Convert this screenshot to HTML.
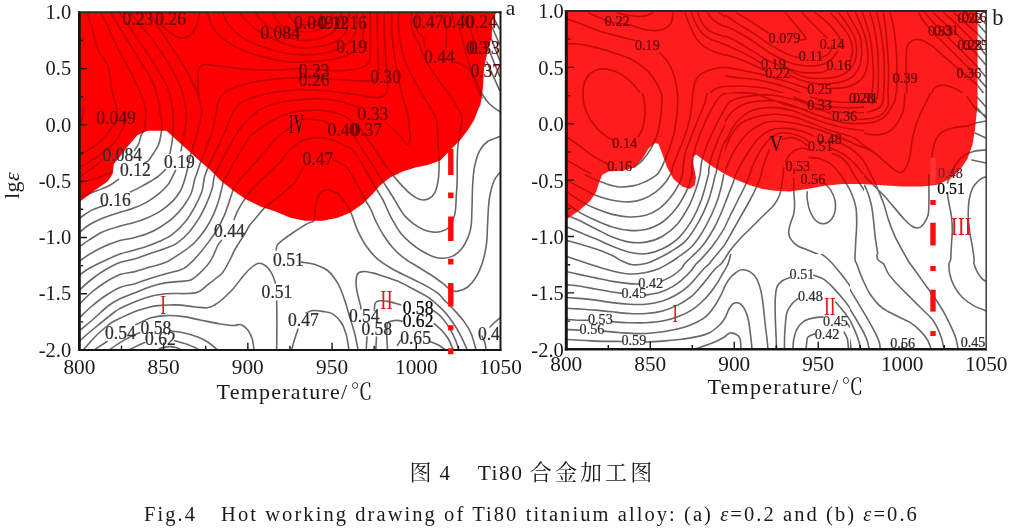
<!DOCTYPE html>
<html lang="zh"><head><meta charset="utf-8"><title>图 4 Ti80 合金加工图</title>
<style>
html,body{margin:0;padding:0;background:#fff;}
body{width:1009px;height:531px;overflow:hidden;}
svg{display:block;will-change:transform;}
text{font-family:"Liberation Serif","Noto Serif CJK SC",serif;fill:#1a1a1a;}
.tk{font-size:21.3px;}
.ax{font-size:22px;letter-spacing:1.25px;}
.cl{font-size:14.5px;fill:#2e2e2e;stroke:#2e2e2e;stroke-width:0.25px;}
.rm{font-size:24px;fill:#e8141c;}
.cn{fill:none;stroke:#686868;stroke-width:1.6;stroke-linecap:round;stroke-linejoin:round;}
.cr{fill:none;stroke:#c00000;stroke-width:1.6;stroke-linecap:round;stroke-linejoin:round;}
</style></head><body>
<svg width="1009" height="531" viewBox="0 0 1009 531">
<rect width="1009" height="531" fill="#fff"/>
<defs>
<clipPath id="cpL"><rect x="79.4" y="12.3" width="421.0" height="337.6"/></clipPath>
<clipPath id="cpR"><rect x="566.3" y="11.0" width="419.9" height="338.3"/></clipPath>
</defs>
<defs>
<clipPath id="redL"><path d="M79.0 9.0L496.0 9.0L496.0 13.0L492.4 20.0L491.7 37.6L487.9 50.1L484.1 67.6L482.9 87.7L481.6 97.7L480.4 105.0L477.9 110.0L474.1 120.0L467.9 130.1L460.3 140.1L450.3 150.1L440.3 160.6L427.8 165.1L415.3 167.6L402.7 171.4L390.2 177.6L380.2 185.2L372.7 193.9L362.6 204.0L350.1 212.7L337.6 217.7L322.6 220.7L305.0 220.7L290.4 217.7L275.4 211.5L260.4 206.5L245.3 198.9L232.8 190.2L220.3 180.2L210.3 170.1L200.3 161.4L187.7 150.1L175.2 138.8L166.4 130.8L147.6 130.8L137.6 135.1L128.9 145.1L120.1 156.4L113.8 163.9L112.6 173.9L107.6 181.4L95.0 190.2L80.0 201.4L78.0 203.0Z"/></clipPath>
<clipPath id="whtL"><path clip-rule="evenodd" d="M77.4 10.3H502.4V352.0H77.4ZM79.0 9.0L496.0 9.0L496.0 13.0L492.4 20.0L491.7 37.6L487.9 50.1L484.1 67.6L482.9 87.7L481.6 97.7L480.4 105.0L477.9 110.0L474.1 120.0L467.9 130.1L460.3 140.1L450.3 150.1L440.3 160.6L427.8 165.1L415.3 167.6L402.7 171.4L390.2 177.6L380.2 185.2L372.7 193.9L362.6 204.0L350.1 212.7L337.6 217.7L322.6 220.7L305.0 220.7L290.4 217.7L275.4 211.5L260.4 206.5L245.3 198.9L232.8 190.2L220.3 180.2L210.3 170.1L200.3 161.4L187.7 150.1L175.2 138.8L166.4 130.8L147.6 130.8L137.6 135.1L128.9 145.1L120.1 156.4L113.8 163.9L112.6 173.9L107.6 181.4L95.0 190.2L80.0 201.4L78.0 203.0Z"/></clipPath>
<g id="lnL">
<clipPath id="cL0"><rect x="75.0" y="5.0" width="283.0" height="103.0"/></clipPath>
<path clip-path="url(#cL0)" d="M87.0 12.5C87.9 15.4 90.7 23.8 92.5 30.0C94.3 36.2 95.4 43.8 98.0 50.0C100.6 56.2 105.8 59.9 108.2 67.0C110.6 74.1 111.0 85.6 112.4 92.4C113.8 99.2 116.0 104.7 116.8 108.0C117.6 111.3 117.4 111.3 117.5 112.0M101.0 13.0C102.2 15.3 105.1 21.0 108.0 27.1C110.9 33.2 114.6 41.9 118.5 49.7C122.4 57.5 127.6 66.3 131.5 74.1C135.4 81.9 139.8 91.0 142.0 96.7C144.2 102.4 144.4 105.5 145.0 108.0C145.6 110.5 145.7 111.3 145.8 112.0M111.0 13.0C112.0 14.7 114.7 19.4 117.0 23.3C119.3 27.2 121.3 30.5 125.0 36.5C128.7 42.5 134.4 51.6 139.0 59.1C143.6 66.6 149.2 74.5 152.5 81.7C155.8 88.9 157.8 98.0 159.0 102.4C160.2 106.8 159.4 106.4 159.6 108.0C159.8 109.6 159.8 111.3 159.9 112.0M120.0 13.0C121.3 15.0 124.5 20.0 128.0 25.2C131.5 30.4 136.6 37.4 141.0 44.0C145.4 50.6 150.1 57.5 154.5 64.7C158.9 71.9 164.6 80.4 167.5 87.3C170.4 94.2 171.3 102.8 172.1 106.2C172.9 109.7 172.2 107.0 172.4 108.0C172.6 109.0 173.0 111.3 173.1 112.0M131.0 13.0C132.8 15.3 138.3 22.6 142.0 27.1C145.7 31.6 148.7 34.2 153.0 40.2C157.3 46.2 163.3 54.9 168.0 62.8C172.7 70.6 178.1 80.1 181.0 87.3C183.9 94.5 184.5 102.8 185.3 106.2C186.1 109.7 185.4 107.0 185.6 108.0C185.8 109.0 186.2 111.3 186.3 112.0M150.0 13.0C151.8 16.0 157.1 25.0 160.8 30.8C164.5 36.6 168.0 41.5 172.1 47.8C176.2 54.1 181.7 62.5 185.3 68.5C188.9 74.5 191.5 79.8 193.5 84.0C195.5 88.2 196.4 91.0 197.5 94.0C198.6 97.0 199.4 100.7 199.8 102.0M159.7 12.5C160.0 14.4 159.7 20.5 161.4 23.8C163.2 27.1 167.1 30.1 170.2 32.5C173.3 34.9 177.1 37.4 180.2 38.0C183.3 38.6 186.5 37.5 189.0 36.0C191.5 34.5 193.6 31.7 195.2 29.0C196.8 26.3 197.6 22.8 198.3 20.0C199.0 17.2 199.3 13.8 199.5 12.5M288.0 13.0C288.8 14.3 290.2 19.0 293.0 21.0C295.8 23.0 301.2 24.8 305.0 25.0C308.8 25.2 313.2 24.0 316.0 22.0C318.8 20.0 321.0 14.5 322.0 13.0M272.9 13.0C274.1 14.8 276.8 21.2 280.0 24.0C283.2 26.8 287.8 28.7 292.0 30.0C296.2 31.3 300.7 32.0 305.0 32.0C309.3 32.0 314.2 31.3 318.0 30.0C321.8 28.7 325.5 26.8 328.0 24.0C330.5 21.2 332.2 14.8 333.0 13.0M255.4 13.0C257.0 14.8 260.9 20.7 265.0 24.0C269.1 27.3 274.2 30.3 280.0 33.0C285.8 35.7 293.7 39.3 300.0 40.3C306.3 41.3 312.7 40.2 318.0 39.0C323.3 37.8 328.5 35.5 332.0 33.0C335.5 30.5 337.5 27.3 339.0 24.0C340.5 20.7 340.7 14.8 341.0 13.0M240.3 13.0C241.6 14.7 244.4 19.7 248.0 23.0C251.6 26.3 256.7 29.8 262.0 33.0C267.3 36.2 273.7 39.5 280.0 42.0C286.3 44.5 293.0 47.1 300.0 47.8C307.0 48.5 315.7 47.3 322.0 46.0C328.3 44.7 334.0 42.5 338.0 40.0C342.0 37.5 344.2 35.5 346.0 31.0C347.8 26.5 348.5 16.0 349.0 13.0M222.8 13.0C223.7 14.8 225.1 20.2 228.0 24.0C230.9 27.8 234.7 32.3 240.0 36.0C245.3 39.7 253.3 43.3 260.0 46.0C266.7 48.7 273.3 50.5 280.0 52.0C286.7 53.5 292.5 54.6 300.0 54.8C307.5 55.0 318.0 54.3 325.0 53.0C332.0 51.7 337.5 49.3 342.0 47.0C346.5 44.7 349.7 41.8 352.0 39.0C354.3 36.2 355.1 34.3 355.9 30.0C356.6 25.7 356.4 15.8 356.5 13.0M207.8 13.0C208.5 15.2 209.6 21.8 212.0 26.0C214.4 30.2 217.3 34.2 222.0 38.0C226.7 41.8 233.7 46.0 240.0 49.0C246.3 52.0 252.0 53.9 260.0 56.0C268.0 58.1 276.9 61.0 287.8 61.7C298.8 62.4 316.2 61.4 325.7 60.4C335.2 59.4 339.8 57.9 345.0 56.0C350.2 54.1 354.1 51.7 357.0 49.0C359.9 46.3 361.4 43.2 362.5 40.0C363.6 36.8 363.2 34.5 363.4 30.0C363.6 25.5 363.5 15.8 363.5 13.0M201.8 112.0C201.7 111.3 201.3 109.7 201.0 108.0C200.7 106.3 200.2 104.7 199.8 102.0C199.4 99.3 198.8 95.7 198.5 92.0C198.2 88.3 198.2 83.7 198.2 80.0C198.2 76.3 198.1 72.3 198.6 70.0C199.1 67.7 199.8 66.9 201.0 66.0C202.2 65.1 201.9 64.7 206.0 64.8C210.1 64.9 218.1 66.0 225.5 66.8C232.9 67.6 242.2 69.0 250.6 69.5C259.0 70.0 268.0 70.1 275.8 70.0C283.6 69.9 287.9 68.7 297.6 68.8C307.3 68.9 325.2 70.4 333.8 70.6C342.4 70.8 344.3 70.6 348.9 70.1C353.5 69.6 358.1 69.2 361.5 67.8C364.9 66.4 367.6 64.7 369.1 61.5C370.6 58.4 370.4 54.1 370.6 48.9C370.8 43.6 370.4 36.0 370.4 30.0C370.3 24.0 370.3 15.8 370.3 13.0M216.3 112.0C216.4 111.3 216.4 109.8 216.8 108.0C217.2 106.2 217.5 103.3 218.5 101.0C219.5 98.7 221.0 96.0 223.0 94.0C225.0 92.0 225.7 90.8 230.3 88.9C234.9 87.0 242.9 84.4 250.4 82.7C257.9 81.0 267.0 79.8 275.4 78.9C283.8 78.1 291.9 77.7 300.5 77.6C309.1 77.5 318.9 78.0 327.0 78.5C335.1 79.0 342.1 80.0 348.9 80.4C355.7 80.8 363.2 81.3 367.8 81.1C372.4 80.9 374.9 80.8 376.7 79.2C378.5 77.6 378.3 75.6 378.5 71.6C378.7 67.6 378.1 62.1 377.9 55.2C377.7 48.3 377.4 37.0 377.3 30.0C377.2 23.0 377.1 15.8 377.0 13.0M233.0 112.0C233.5 111.3 234.6 109.6 236.0 108.0C237.4 106.4 238.3 104.4 241.5 102.5C244.7 100.6 249.8 98.2 255.4 96.5C261.1 94.8 267.9 93.3 275.4 92.2C282.9 91.1 292.2 89.9 300.5 89.7C308.8 89.5 316.9 90.1 325.2 90.8C333.5 91.5 342.8 92.9 350.4 93.9C358.0 95.0 365.6 96.6 370.6 97.1C375.7 97.6 378.2 97.6 380.7 97.1C383.2 96.6 384.5 95.5 385.7 93.9C386.9 92.3 387.4 91.3 387.6 87.6C387.8 83.9 387.1 77.0 386.7 71.6C386.3 66.2 385.9 62.1 385.5 55.2C385.1 48.3 384.4 37.0 384.2 30.0C383.9 23.0 384.0 15.8 384.0 13.0M256.0 112.5C257.2 111.8 260.3 109.3 263.0 108.0C265.7 106.7 268.3 105.6 272.0 104.5C275.7 103.4 280.3 102.3 285.0 101.5C289.7 100.7 294.4 100.3 300.0 99.8C305.6 99.3 312.6 98.4 318.9 98.6C325.2 98.8 332.1 99.8 337.8 100.9C343.5 102.0 349.4 104.0 353.0 105.3C356.6 106.6 358.2 108.4 359.3 109.0M388.3 124.8C389.6 125.9 393.1 128.8 395.8 131.7C398.5 134.6 403.2 140.3 404.7 142.0M391.8 13.0C391.8 15.8 391.4 23.0 391.8 30.0C392.2 37.0 393.2 46.8 394.3 55.2C395.4 63.6 397.3 73.4 398.7 80.4C400.1 87.4 401.1 91.4 402.6 97.0C404.1 102.6 406.4 107.4 407.7 114.1C409.0 120.8 409.8 133.2 410.2 137.0M398.7 13.0C398.7 15.8 398.0 23.0 398.7 30.0C399.4 37.0 401.4 48.5 403.1 55.2C404.8 61.9 406.2 64.4 408.9 70.0C411.5 75.6 415.4 82.6 419.0 88.9C422.6 95.2 427.4 102.5 430.4 107.8C433.3 113.0 435.4 115.5 436.7 120.4C437.9 125.3 437.7 134.2 437.9 137.0M411.5 13.0C411.6 15.8 410.9 25.1 412.0 30.0C413.1 34.9 415.7 36.9 418.3 42.6C420.9 48.3 423.7 56.8 427.8 64.0C431.9 71.2 438.4 79.3 443.0 86.0C447.6 92.7 452.5 99.0 455.6 104.3C458.8 109.6 461.1 112.5 461.9 117.9C462.7 123.4 460.8 133.8 460.6 137.0M416.5 13.0C416.6 15.8 415.9 25.9 417.0 30.0C418.1 34.1 422.1 34.8 423.3 37.6C424.6 40.4 424.3 45.4 424.5 47.0M455.0 62.0C456.3 62.6 460.4 64.1 463.0 65.5C465.6 66.9 468.6 68.1 470.7 70.5C472.8 72.9 473.9 76.2 475.8 80.1C477.7 84.0 479.8 90.0 482.1 94.0C484.4 98.0 486.7 101.1 489.6 104.0C492.5 106.9 498.0 110.3 499.7 111.6M446.7 26.4L446.3 47.0M459.3 26.4C459.9 28.9 461.5 35.8 463.0 41.5C464.5 47.2 466.4 54.5 468.1 60.4C469.8 66.3 471.5 72.1 473.1 77.0C474.8 81.9 476.5 86.5 478.0 90.0C479.5 93.5 481.3 96.7 482.0 98.0M470.0 27.0C470.5 28.8 471.8 34.2 473.0 38.0C474.2 41.8 476.3 48.0 477.0 50.0M452.0 13.0L455.0 26.0M463.0 13.0L466.0 24.0M493.0 17.0L499.5 29.0M492.0 27.0L499.5 44.0M491.0 38.0L499.5 60.0M489.0 50.0L499.5 76.0M487.0 62.0L499.5 90.2"/>
<clipPath id="cL1"><rect x="358.0" y="5.0" width="142.0" height="116.5"/></clipPath>
<path clip-path="url(#cL1)" d="M288.0 13.0C288.8 14.3 290.2 19.0 293.0 21.0C295.8 23.0 301.2 24.8 305.0 25.0C308.8 25.2 313.2 24.0 316.0 22.0C318.8 20.0 321.0 14.5 322.0 13.0M272.9 13.0C274.1 14.8 276.8 21.2 280.0 24.0C283.2 26.8 287.8 28.7 292.0 30.0C296.2 31.3 300.7 32.0 305.0 32.0C309.3 32.0 314.2 31.3 318.0 30.0C321.8 28.7 325.5 26.8 328.0 24.0C330.5 21.2 332.2 14.8 333.0 13.0M255.4 13.0C257.0 14.8 260.9 20.7 265.0 24.0C269.1 27.3 274.2 30.3 280.0 33.0C285.8 35.7 293.7 39.3 300.0 40.3C306.3 41.3 312.7 40.2 318.0 39.0C323.3 37.8 328.5 35.5 332.0 33.0C335.5 30.5 337.5 27.3 339.0 24.0C340.5 20.7 340.7 14.8 341.0 13.0M240.3 13.0C241.6 14.7 244.4 19.7 248.0 23.0C251.6 26.3 256.7 29.8 262.0 33.0C267.3 36.2 273.7 39.5 280.0 42.0C286.3 44.5 293.0 47.1 300.0 47.8C307.0 48.5 315.7 47.3 322.0 46.0C328.3 44.7 334.0 42.5 338.0 40.0C342.0 37.5 344.2 35.5 346.0 31.0C347.8 26.5 348.5 16.0 349.0 13.0M222.8 13.0C223.7 14.8 225.1 20.2 228.0 24.0C230.9 27.8 234.7 32.3 240.0 36.0C245.3 39.7 253.3 43.3 260.0 46.0C266.7 48.7 273.3 50.5 280.0 52.0C286.7 53.5 292.5 54.6 300.0 54.8C307.5 55.0 318.0 54.3 325.0 53.0C332.0 51.7 337.5 49.3 342.0 47.0C346.5 44.7 349.7 41.8 352.0 39.0C354.3 36.2 355.1 34.3 355.9 30.0C356.6 25.7 356.4 15.8 356.5 13.0M207.8 13.0C208.5 15.2 209.6 21.8 212.0 26.0C214.4 30.2 217.3 34.2 222.0 38.0C226.7 41.8 233.7 46.0 240.0 49.0C246.3 52.0 252.0 53.9 260.0 56.0C268.0 58.1 276.9 61.0 287.8 61.7C298.8 62.4 316.2 61.4 325.7 60.4C335.2 59.4 339.8 57.9 345.0 56.0C350.2 54.1 354.1 51.7 357.0 49.0C359.9 46.3 361.4 43.2 362.5 40.0C363.6 36.8 363.2 34.5 363.4 30.0C363.6 25.5 363.5 15.8 363.5 13.0M201.8 112.0C201.7 111.3 201.3 109.7 201.0 108.0C200.7 106.3 200.2 104.7 199.8 102.0C199.4 99.3 198.8 95.7 198.5 92.0C198.2 88.3 198.2 83.7 198.2 80.0C198.2 76.3 198.1 72.3 198.6 70.0C199.1 67.7 199.8 66.9 201.0 66.0C202.2 65.1 201.9 64.7 206.0 64.8C210.1 64.9 218.1 66.0 225.5 66.8C232.9 67.6 242.2 69.0 250.6 69.5C259.0 70.0 268.0 70.1 275.8 70.0C283.6 69.9 287.9 68.7 297.6 68.8C307.3 68.9 325.2 70.4 333.8 70.6C342.4 70.8 344.3 70.6 348.9 70.1C353.5 69.6 358.1 69.2 361.5 67.8C364.9 66.4 367.6 64.7 369.1 61.5C370.6 58.4 370.4 54.1 370.6 48.9C370.8 43.6 370.4 36.0 370.4 30.0C370.3 24.0 370.3 15.8 370.3 13.0M216.3 112.0C216.4 111.3 216.4 109.8 216.8 108.0C217.2 106.2 217.5 103.3 218.5 101.0C219.5 98.7 221.0 96.0 223.0 94.0C225.0 92.0 225.7 90.8 230.3 88.9C234.9 87.0 242.9 84.4 250.4 82.7C257.9 81.0 267.0 79.8 275.4 78.9C283.8 78.1 291.9 77.7 300.5 77.6C309.1 77.5 318.9 78.0 327.0 78.5C335.1 79.0 342.1 80.0 348.9 80.4C355.7 80.8 363.2 81.3 367.8 81.1C372.4 80.9 374.9 80.8 376.7 79.2C378.5 77.6 378.3 75.6 378.5 71.6C378.7 67.6 378.1 62.1 377.9 55.2C377.7 48.3 377.4 37.0 377.3 30.0C377.2 23.0 377.1 15.8 377.0 13.0M233.0 112.0C233.5 111.3 234.6 109.6 236.0 108.0C237.4 106.4 238.3 104.4 241.5 102.5C244.7 100.6 249.8 98.2 255.4 96.5C261.1 94.8 267.9 93.3 275.4 92.2C282.9 91.1 292.2 89.9 300.5 89.7C308.8 89.5 316.9 90.1 325.2 90.8C333.5 91.5 342.8 92.9 350.4 93.9C358.0 95.0 365.6 96.6 370.6 97.1C375.7 97.6 378.2 97.6 380.7 97.1C383.2 96.6 384.5 95.5 385.7 93.9C386.9 92.3 387.4 91.3 387.6 87.6C387.8 83.9 387.1 77.0 386.7 71.6C386.3 66.2 385.9 62.1 385.5 55.2C385.1 48.3 384.4 37.0 384.2 30.0C383.9 23.0 384.0 15.8 384.0 13.0M256.0 112.5C257.2 111.8 260.3 109.3 263.0 108.0C265.7 106.7 268.3 105.6 272.0 104.5C275.7 103.4 280.3 102.3 285.0 101.5C289.7 100.7 294.4 100.3 300.0 99.8C305.6 99.3 312.6 98.4 318.9 98.6C325.2 98.8 332.1 99.8 337.8 100.9C343.5 102.0 349.4 104.0 353.0 105.3C356.6 106.6 358.2 108.4 359.3 109.0M388.3 124.8C389.6 125.9 393.1 128.8 395.8 131.7C398.5 134.6 403.2 140.3 404.7 142.0M391.8 13.0C391.8 15.8 391.4 23.0 391.8 30.0C392.2 37.0 393.2 46.8 394.3 55.2C395.4 63.6 397.3 73.4 398.7 80.4C400.1 87.4 401.1 91.4 402.6 97.0C404.1 102.6 406.4 107.4 407.7 114.1C409.0 120.8 409.8 133.2 410.2 137.0M398.7 13.0C398.7 15.8 398.0 23.0 398.7 30.0C399.4 37.0 401.4 48.5 403.1 55.2C404.8 61.9 406.2 64.4 408.9 70.0C411.5 75.6 415.4 82.6 419.0 88.9C422.6 95.2 427.4 102.5 430.4 107.8C433.3 113.0 435.4 115.5 436.7 120.4C437.9 125.3 437.7 134.2 437.9 137.0M411.5 13.0C411.6 15.8 410.9 25.1 412.0 30.0C413.1 34.9 415.7 36.9 418.3 42.6C420.9 48.3 423.7 56.8 427.8 64.0C431.9 71.2 438.4 79.3 443.0 86.0C447.6 92.7 452.5 99.0 455.6 104.3C458.8 109.6 461.1 112.5 461.9 117.9C462.7 123.4 460.8 133.8 460.6 137.0M416.5 13.0C416.6 15.8 415.9 25.9 417.0 30.0C418.1 34.1 422.1 34.8 423.3 37.6C424.6 40.4 424.3 45.4 424.5 47.0M455.0 62.0C456.3 62.6 460.4 64.1 463.0 65.5C465.6 66.9 468.6 68.1 470.7 70.5C472.8 72.9 473.9 76.2 475.8 80.1C477.7 84.0 479.8 90.0 482.1 94.0C484.4 98.0 486.7 101.1 489.6 104.0C492.5 106.9 498.0 110.3 499.7 111.6M446.7 26.4L446.3 47.0M459.3 26.4C459.9 28.9 461.5 35.8 463.0 41.5C464.5 47.2 466.4 54.5 468.1 60.4C469.8 66.3 471.5 72.1 473.1 77.0C474.8 81.9 476.5 86.5 478.0 90.0C479.5 93.5 481.3 96.7 482.0 98.0M470.0 27.0C470.5 28.8 471.8 34.2 473.0 38.0C474.2 41.8 476.3 48.0 477.0 50.0M452.0 13.0L455.0 26.0M463.0 13.0L466.0 24.0M493.0 17.0L499.5 29.0M492.0 27.0L499.5 44.0M491.0 38.0L499.5 60.0M489.0 50.0L499.5 76.0M487.0 62.0L499.5 90.2"/>
<clipPath id="cL2"><rect x="75.0" y="108.0" width="283.0" height="243.0"/></clipPath>
<path clip-path="url(#cL2)" d="M80.0 68.0C80.5 70.8 82.3 79.7 83.0 85.0C83.7 90.3 84.1 94.8 84.0 100.0C83.9 105.2 83.2 112.0 82.5 116.0C81.8 120.0 80.4 122.7 80.0 124.0M116.8 108.0C116.8 109.7 116.8 115.3 116.5 118.0C116.2 120.7 115.7 122.5 115.0 124.0C114.3 125.5 114.1 124.6 112.4 126.8C110.7 129.0 108.0 133.6 104.8 137.0C101.6 140.4 97.0 144.3 93.0 147.1C89.0 149.9 83.5 152.6 81.0 153.9C78.5 155.2 78.5 154.8 78.0 155.0M124.0 126.0C123.6 126.7 123.3 127.5 121.8 130.2C120.3 132.9 118.4 138.1 115.0 142.0C111.6 145.9 106.2 150.2 101.4 153.9C96.6 157.6 90.1 161.7 86.2 164.0C82.3 166.3 79.4 167.3 78.0 168.0M142.0 96.7C142.5 98.6 144.4 105.5 145.0 108.0C145.6 110.5 145.9 108.7 145.8 112.0C145.7 115.3 145.3 124.1 144.5 128.0C143.7 131.9 142.2 132.6 141.2 135.2C140.2 137.8 139.8 141.1 138.7 143.6C137.6 146.1 135.2 149.2 134.5 150.3M102.3 159.8C100.8 161.1 96.5 164.8 93.0 167.5C89.5 170.2 83.5 174.2 81.0 175.9C78.5 177.6 78.5 177.2 78.0 177.5M112.0 172.0C110.0 172.8 104.5 175.4 100.0 177.0C95.5 178.6 88.7 180.5 85.0 181.5C81.3 182.5 79.2 182.8 78.0 183.0M159.0 102.4C159.1 103.3 159.4 106.4 159.6 108.0C159.8 109.6 159.5 109.5 159.9 112.0C160.3 114.5 161.7 119.1 161.8 123.2C161.9 127.3 161.3 132.6 160.7 136.4C160.1 140.2 159.3 143.1 158.0 146.0C156.7 148.9 154.5 151.6 153.0 154.0C151.5 156.4 150.4 158.7 148.8 160.3C147.2 161.9 144.5 163.1 143.7 163.7M118.4 179.3C117.0 180.3 113.3 183.5 109.9 185.3C106.5 187.1 102.8 188.4 98.0 190.3C93.2 192.2 84.3 195.7 81.0 197.0C77.7 198.3 78.5 197.8 78.0 198.0M172.1 106.2C172.2 106.5 172.2 107.0 172.4 108.0C172.6 109.0 173.0 108.4 173.1 112.0C173.2 115.6 173.4 124.7 173.2 129.8C173.0 135.0 172.4 139.0 171.9 142.9C171.4 146.8 170.2 151.7 169.9 153.5M165.5 169.6C164.2 170.8 160.4 174.6 158.0 176.5C155.6 178.4 153.8 179.3 151.0 181.0C148.2 182.7 144.5 184.8 141.1 186.6C137.7 188.4 132.3 191.0 130.5 191.9M106.3 205.0C105.2 205.3 102.5 205.9 99.7 207.0C96.9 208.1 92.4 209.8 89.2 211.6C86.0 213.3 82.5 216.2 80.6 217.5C78.7 218.8 78.4 219.2 78.0 219.5M185.3 106.2C185.4 106.5 185.4 107.0 185.6 108.0C185.8 109.0 186.4 108.4 186.3 112.0C186.2 115.6 185.7 124.7 185.0 129.8C184.3 135.0 183.1 139.4 182.4 142.9C181.8 146.4 181.3 149.5 181.1 150.8M175.6 170.4C174.8 172.0 172.2 177.5 170.8 180.0C169.5 182.5 169.4 183.1 167.5 185.3C165.6 187.5 163.1 190.3 159.6 193.2C156.1 196.0 150.8 199.9 146.4 202.4C142.0 204.9 137.6 206.7 133.2 208.3C128.8 210.0 125.1 210.7 120.0 212.3C114.9 214.0 107.5 216.1 102.4 218.2C97.3 220.3 92.8 222.6 89.2 224.8C85.6 227.0 82.5 230.0 80.6 231.4C78.7 232.8 78.4 233.2 78.0 233.5M199.8 102.0C200.0 103.0 200.7 106.3 201.0 108.0C201.3 109.7 202.3 108.4 201.8 112.0C201.3 115.6 199.7 124.0 198.2 129.8C196.7 135.6 194.2 142.5 192.9 146.9C191.6 151.3 191.2 152.6 190.3 156.1C189.4 159.6 188.6 164.0 187.7 168.0C186.8 172.0 185.8 176.2 184.6 180.0C183.4 183.8 182.6 187.0 180.6 190.5C178.6 194.0 176.2 197.6 172.7 201.1C169.2 204.6 164.0 208.8 159.6 211.6C155.2 214.4 150.8 216.3 146.4 218.2C142.0 220.1 137.6 221.5 133.2 222.8C128.8 224.1 125.1 224.6 120.0 226.1C114.9 227.6 107.5 229.7 102.4 232.0C97.3 234.3 92.8 237.6 89.2 239.9C85.6 242.2 82.5 244.6 80.6 245.9C78.7 247.2 78.4 247.7 78.0 248.0M218.5 101.0C218.2 102.2 217.2 106.2 216.8 108.0C216.4 109.8 217.0 108.4 216.3 112.0C215.6 115.6 214.4 123.8 212.7 129.8C211.0 135.8 208.1 142.9 206.1 148.2C204.1 153.5 202.3 157.2 200.8 161.4C199.3 165.6 198.0 170.1 196.9 173.2C195.8 176.3 195.4 176.7 194.5 180.0C193.6 183.3 193.1 188.8 191.2 193.2C189.3 197.6 186.4 202.2 183.3 206.4C180.2 210.6 176.6 214.7 172.7 218.2C168.8 221.7 164.0 224.8 159.6 227.5C155.2 230.2 150.8 232.3 146.4 234.1C142.0 235.8 137.6 236.9 133.2 238.0C128.8 239.1 125.1 239.1 120.0 240.6C114.9 242.1 107.5 244.9 102.4 247.2C97.3 249.5 92.8 252.2 89.2 254.4C85.6 256.6 82.5 259.0 80.6 260.4C78.7 261.8 78.4 262.1 78.0 262.5M241.5 102.5C240.6 103.4 237.4 106.4 236.0 108.0C234.6 109.6 234.7 108.4 233.0 112.0C231.3 115.6 228.6 123.6 225.9 129.8C223.2 136.1 219.3 144.0 216.7 149.5C214.1 155.0 212.1 158.3 210.1 162.7C208.1 167.1 205.9 172.5 204.8 175.9C203.7 179.3 204.0 180.3 203.5 183.0C203.0 185.7 203.1 188.0 201.7 191.9C200.3 195.8 197.7 201.6 195.1 206.4C192.5 211.2 189.6 216.3 185.9 220.9C182.2 225.5 177.1 230.7 172.7 234.1C168.3 237.5 164.0 239.2 159.6 241.3C155.2 243.4 150.8 245.0 146.4 246.5C142.0 248.0 137.4 249.2 133.0 250.5C128.6 251.8 125.1 252.1 120.0 254.0C114.9 255.9 107.5 259.3 102.4 261.7C97.3 264.1 92.8 266.2 89.2 268.3C85.6 270.4 82.5 272.8 80.6 274.2C78.7 275.6 78.4 276.1 78.0 276.5M272.0 104.5C270.5 105.1 265.7 106.7 263.0 108.0C260.3 109.3 258.2 110.8 256.0 112.5C253.8 114.2 252.8 115.0 250.0 117.9C247.2 120.8 242.7 124.8 239.1 129.8C235.5 134.9 231.6 142.7 228.5 148.2C225.4 153.7 222.8 158.5 220.6 162.7C218.4 166.9 216.5 170.3 215.3 173.2C214.1 176.1 214.1 177.6 213.6 180.0C213.1 182.4 213.4 184.2 212.3 187.9C211.2 191.6 209.2 197.4 207.0 202.4C204.8 207.4 202.2 213.1 199.1 218.2C196.0 223.2 192.3 228.5 188.6 232.7C184.9 236.9 180.6 240.7 176.7 243.3C172.8 245.9 169.6 246.8 165.2 248.5C160.8 250.2 155.1 251.9 150.1 253.6C145.1 255.3 140.0 257.3 135.0 258.8C130.0 260.3 125.0 260.7 120.0 262.6C115.0 264.5 109.7 267.3 105.0 270.0C100.3 272.7 96.1 275.8 92.0 279.0C87.9 282.2 82.8 286.9 80.5 289.0C78.2 291.1 78.4 291.1 78.0 291.5M353.0 122.9C352.1 122.1 350.8 119.6 347.9 117.9C344.9 116.2 340.1 114.1 335.3 112.8C330.5 111.5 324.8 110.6 318.9 110.3C313.0 110.0 305.2 110.5 300.0 111.0C294.8 111.5 292.4 112.0 287.9 113.5C283.4 115.0 278.0 117.2 273.0 120.0C268.0 122.8 261.6 127.4 257.8 130.1C254.0 132.8 252.7 133.2 250.0 136.4C247.3 139.6 244.4 145.1 241.7 149.5C239.0 153.9 236.0 158.8 233.8 162.7C231.6 166.6 230.1 170.3 228.5 173.2C226.9 176.1 225.1 177.8 224.0 180.0C222.9 182.2 223.0 183.3 222.2 186.6C221.3 189.9 220.3 195.2 218.9 199.8C217.5 204.4 215.8 209.5 213.6 214.3C211.4 219.1 208.5 224.4 205.7 228.8C202.8 233.2 199.0 237.7 196.5 240.6C194.0 243.5 193.5 243.8 190.8 246.0C188.1 248.2 184.5 250.8 180.2 253.6C175.9 256.4 170.2 260.4 165.2 262.6C160.2 264.9 155.1 265.6 150.1 267.1C145.1 268.6 140.0 270.4 135.0 271.6C130.0 272.9 125.0 272.8 120.0 274.6C115.0 276.4 109.7 279.6 105.0 282.5C100.3 285.4 96.1 288.6 92.0 292.0C87.9 295.4 82.8 300.8 80.5 303.0C78.2 305.2 78.4 305.1 78.0 305.5M330.3 126.0C329.6 125.3 328.8 122.9 325.8 121.8C322.9 120.7 316.8 119.9 312.6 119.5C308.5 119.1 305.0 118.0 300.9 119.6C296.8 121.1 292.3 125.6 288.1 128.8C283.9 132.0 279.5 134.9 275.5 138.9C271.5 142.9 268.1 148.2 264.1 152.8C260.1 157.4 255.5 162.3 251.5 166.7C247.5 171.1 243.0 175.9 240.2 179.3C237.4 182.7 235.8 185.0 234.5 187.0C233.2 189.0 233.5 188.8 232.7 191.2C231.8 193.5 230.8 197.0 229.4 201.1C228.0 205.2 226.2 211.0 224.2 215.6C222.2 220.2 220.0 224.6 217.6 228.8C215.2 233.0 212.8 236.2 209.6 240.6C206.4 245.0 201.9 250.9 198.3 255.1C194.7 259.3 190.8 263.1 187.8 265.6C184.8 268.1 184.0 268.7 180.2 270.1C176.4 271.5 170.2 272.5 165.2 273.9C160.2 275.3 155.1 276.8 150.1 278.4C145.1 280.0 140.0 282.2 135.0 283.7C130.0 285.2 125.0 285.3 120.0 287.4C115.0 289.4 109.7 292.9 105.0 296.0C100.3 299.1 96.1 302.6 92.0 306.0C87.9 309.4 82.8 314.5 80.5 316.7C78.2 318.9 78.4 318.6 78.0 319.0M346.0 146.5C343.9 145.4 337.7 141.7 333.5 140.2C329.3 138.7 325.1 137.9 320.9 137.7C316.7 137.5 312.1 138.1 308.3 138.9C304.5 139.7 301.6 140.6 298.2 142.7C294.8 144.8 291.2 148.1 288.1 151.5C285.0 154.9 282.7 159.1 279.3 162.9C275.9 166.7 271.5 170.8 267.9 174.2C264.3 177.6 260.9 180.0 257.8 183.1C254.7 186.2 251.5 189.8 249.0 193.0C246.5 196.2 244.5 199.3 242.6 202.4C240.7 205.5 238.7 208.7 237.3 211.6C235.9 214.5 234.6 218.3 234.0 219.6M221.5 240.6C220.8 241.5 219.4 242.5 217.6 245.9C215.8 249.3 213.4 256.6 210.4 261.1C207.4 265.6 203.1 270.0 199.8 273.1C196.5 276.2 194.1 278.5 190.8 279.9C187.5 281.3 184.5 280.9 180.2 281.4C175.9 281.9 170.2 282.0 165.2 282.9C160.2 283.8 155.1 285.1 150.1 286.7C145.1 288.3 140.0 290.7 135.0 292.7C130.0 294.7 124.5 296.5 120.0 298.7C115.5 300.9 112.2 302.8 108.0 306.0C103.8 309.2 99.2 314.0 94.6 318.0C90.0 322.0 83.3 327.6 80.5 330.0C77.7 332.4 78.4 332.1 78.0 332.5M332.2 159.1C333.5 159.7 337.5 161.6 339.8 162.9C342.1 164.2 344.3 165.2 346.0 166.7C347.7 168.2 348.0 168.8 350.0 172.0C352.0 175.2 355.3 181.2 358.0 186.0C360.7 190.8 364.7 198.5 366.0 201.0M346.0 126.0C346.6 126.7 348.1 127.7 349.8 130.0C351.5 132.3 353.9 136.0 356.4 139.8C358.9 143.6 363.2 150.7 364.6 152.9M346.0 146.5C347.0 146.9 349.5 146.4 352.0 149.0C354.5 151.6 358.2 157.5 361.0 162.0C363.8 166.5 367.7 173.7 369.0 176.0M353.0 122.9C353.8 123.4 356.6 124.8 358.0 126.0C359.4 127.2 360.2 128.5 361.3 130.0C362.4 131.5 364.1 134.1 364.6 134.9M303.2 167.9C302.4 169.4 299.7 174.1 298.2 176.7C296.7 179.3 296.9 180.3 294.0 183.4C291.1 186.5 285.2 191.3 280.5 195.2C275.8 199.1 269.7 203.0 265.5 206.9C261.3 210.8 258.0 215.6 255.4 218.6C252.8 221.6 251.9 222.0 250.0 224.8C248.1 227.6 245.8 232.3 243.9 235.4C242.0 238.5 240.2 240.9 238.7 243.3C237.2 245.7 236.2 247.2 234.7 250.0C233.2 252.8 231.9 256.2 229.9 260.0C227.9 263.8 224.9 269.5 222.7 272.5C220.4 275.5 219.0 275.9 216.4 278.0C213.8 280.1 210.3 282.9 207.3 285.2C204.3 287.5 201.6 290.6 198.3 292.0C195.1 293.4 192.1 293.2 187.8 293.5C183.5 293.8 177.0 293.4 172.7 293.5C168.4 293.6 166.0 293.7 162.2 294.2C158.4 294.7 154.6 295.2 150.1 296.5C145.6 297.8 140.0 299.7 135.0 301.7C130.0 303.7 123.6 306.6 120.0 308.5C116.4 310.4 117.5 309.8 113.3 313.0C109.1 316.2 100.1 323.5 94.6 328.0C89.1 332.5 83.3 337.7 80.5 340.0C77.7 342.3 78.4 341.7 78.0 342.0M79.0 352.0C79.8 351.6 80.9 352.1 83.5 349.6C86.1 347.1 90.7 341.1 94.6 337.2C98.5 333.3 104.0 328.6 107.1 326.0C110.2 323.4 111.1 322.8 113.3 321.5C115.5 320.2 116.4 320.0 120.0 318.3C123.6 316.6 130.0 313.4 135.0 311.5C140.0 309.6 146.2 308.0 150.1 307.0C154.0 306.0 155.4 305.9 158.5 305.6C161.6 305.3 164.9 305.1 168.5 305.0C172.1 304.9 175.7 304.8 180.2 305.1C184.7 305.4 190.8 306.6 195.3 307.0C199.8 307.4 204.0 308.2 207.3 307.8C210.6 307.4 212.3 306.3 214.9 304.8C217.5 303.3 219.6 301.7 222.7 299.0C225.8 296.3 229.8 292.5 233.4 288.5C237.0 284.5 240.9 278.6 244.0 275.0C247.1 271.4 249.7 268.9 252.0 267.0C254.3 265.1 256.2 264.0 258.0 263.5C259.8 263.0 261.3 263.4 263.0 264.2C264.7 264.9 266.4 266.2 268.0 268.0C269.6 269.8 271.3 272.5 272.5 275.0C273.7 277.5 274.9 281.7 275.4 283.0M276.7 301.0C276.7 304.2 276.9 311.9 276.9 320.0C276.9 328.1 276.7 344.6 276.7 349.5M94.6 349.6L107.1 341.5M135.9 324.6C138.4 323.5 146.2 319.3 151.1 317.8C156.0 316.3 160.1 315.8 165.5 315.6C170.9 315.4 177.5 315.8 183.4 316.6C189.3 317.4 195.2 319.0 201.2 320.2C207.1 321.4 213.7 322.8 219.1 323.7C224.5 324.6 229.9 325.4 233.5 325.5C237.1 325.6 238.2 323.9 240.6 324.6C243.0 325.4 245.9 327.6 247.8 330.0C249.7 332.4 251.2 335.6 252.2 338.9C253.2 342.2 253.7 347.9 254.0 349.7M110.0 349.7C111.2 348.8 113.9 346.4 117.2 344.3C120.5 342.2 126.0 339.0 129.7 337.1C133.4 335.2 137.9 333.4 139.5 332.7M170.8 330.9C172.9 331.2 178.9 331.7 183.4 332.7C187.9 333.7 193.5 335.5 197.7 337.1C201.9 338.7 205.1 340.4 208.4 342.5C211.7 344.6 215.8 348.5 217.3 349.7M129.7 349.7C130.9 349.1 134.3 347.3 136.8 346.1C139.3 344.9 143.6 343.1 144.9 342.5M174.4 340.7C176.5 341.3 182.7 342.8 186.9 344.3C191.1 345.8 197.4 348.8 199.5 349.7M158.0 349.7C158.8 349.4 161.0 348.1 163.0 347.6C165.0 347.1 167.8 346.6 170.0 346.6C172.2 346.6 174.2 347.1 176.0 347.6C177.8 348.1 180.2 349.4 181.0 349.7M366.2 246.0C364.8 243.6 360.2 235.9 358.0 231.3C355.8 226.7 354.5 221.8 353.1 218.2C351.7 214.6 351.0 212.4 349.8 210.0C348.6 207.6 347.9 206.2 345.9 203.5C343.9 200.8 340.8 196.2 338.0 194.0C335.2 191.8 331.9 190.5 329.2 190.1C326.5 189.7 324.0 190.1 322.0 191.5C320.0 192.9 318.5 195.4 317.3 198.5C316.1 201.6 315.5 206.4 315.0 210.0C314.5 213.6 315.4 218.0 314.1 220.3C312.8 222.6 310.8 221.7 307.4 223.6C304.0 225.5 298.2 229.2 294.0 232.0C289.8 234.8 285.0 238.2 282.2 240.4C279.4 242.6 278.2 243.8 277.2 245.4C276.2 247.0 276.4 249.2 276.3 250.0M291.7 349.5C292.2 347.6 293.9 341.4 295.0 338.0C296.1 334.6 297.5 330.5 298.0 329.0M306.0 313.0C307.2 312.6 310.2 310.8 313.0 310.5C315.8 310.2 319.3 310.8 322.6 311.4C325.9 312.0 329.5 312.0 332.6 313.9C335.7 315.8 339.1 319.1 341.4 322.7C343.7 326.2 345.1 330.7 346.4 335.2C347.6 339.7 348.5 347.1 348.9 349.5"/>
<clipPath id="cL3"><rect x="358.0" y="121.5" width="142.0" height="229.5"/></clipPath>
<path clip-path="url(#cL3)" d="M388.3 124.8C389.6 125.9 393.4 129.2 395.8 131.7C398.2 134.1 401.1 137.4 403.0 139.5C404.9 141.6 405.9 144.1 407.0 144.5C408.1 144.9 409.1 143.2 409.6 142.0C410.1 140.8 410.3 139.8 410.2 137.0C410.1 134.2 409.4 128.8 409.0 125.0C408.6 121.2 407.9 115.9 407.7 114.1M436.7 120.4C436.8 122.0 437.2 125.7 437.5 130.0C437.8 134.3 438.0 140.9 438.3 146.4C438.6 151.9 439.1 157.3 439.1 162.8C439.1 168.3 439.0 174.3 438.3 179.2C437.6 184.1 436.6 189.0 435.0 192.3C433.4 195.6 430.9 197.6 428.5 198.8C426.1 200.0 423.3 200.4 420.3 199.6C417.3 198.8 413.8 196.5 410.5 193.9C407.2 191.3 403.9 187.7 400.6 184.1C397.3 180.5 393.8 176.4 390.8 172.6C387.8 168.8 385.6 165.5 382.6 161.1C379.6 156.7 375.8 150.8 372.8 146.4C369.8 142.0 366.5 137.6 364.6 134.9C362.7 132.2 362.4 131.5 361.3 130.0C360.2 128.5 359.4 127.2 358.0 126.0C356.6 124.8 353.8 123.4 353.0 122.9M461.9 117.9C461.7 119.9 461.2 125.5 460.6 130.0C460.0 134.5 458.6 139.2 458.0 144.7C457.4 150.2 457.3 157.1 457.2 162.8C457.1 168.6 457.3 173.8 457.2 179.2C457.1 184.6 456.6 190.4 456.3 195.5C456.0 200.6 456.0 205.9 455.5 210.0C455.0 214.1 454.3 216.8 453.1 219.8C451.9 222.8 450.0 226.1 448.1 228.0C446.2 229.9 444.1 230.6 441.6 231.3C439.2 232.0 436.4 232.4 433.4 232.1C430.4 231.8 426.9 231.1 423.6 229.7C420.3 228.3 416.7 226.1 413.7 223.9C410.7 221.7 407.7 218.9 405.5 216.6C403.3 214.3 402.5 212.9 400.6 210.0C398.7 207.1 396.6 203.0 394.1 199.0C391.7 195.0 388.4 189.8 385.9 186.0C383.4 182.2 381.5 179.5 379.3 176.0C377.1 172.5 375.2 168.8 372.8 165.0C370.4 161.2 367.3 157.1 364.6 152.9C361.9 148.7 358.9 143.6 356.4 139.8C353.9 136.0 351.5 132.3 349.8 130.0C348.1 127.7 346.6 126.7 346.0 126.0M499.8 136.6C497.8 137.4 490.9 139.1 487.5 141.5C484.1 143.9 481.5 146.9 479.3 151.3C477.1 155.7 475.5 162.2 474.4 167.7C473.3 173.2 473.1 178.6 472.7 184.1C472.3 189.6 472.3 196.2 472.2 200.5C472.1 204.8 472.1 205.7 471.9 210.0C471.7 214.3 471.8 221.8 471.1 226.4C470.4 231.1 469.4 234.1 467.8 237.9C466.2 241.7 463.8 246.3 461.3 249.3C458.9 252.3 456.1 254.4 453.1 255.9C450.1 257.4 446.5 258.2 443.2 258.3C439.9 258.4 436.9 257.9 433.4 256.7C429.8 255.5 425.7 253.3 421.9 251.0C418.1 248.7 414.1 245.8 410.5 242.8C406.9 239.8 403.6 236.7 400.6 232.9C397.6 229.1 394.6 223.6 392.4 219.8C390.2 216.0 389.1 213.3 387.5 210.0C385.9 206.7 384.8 203.3 383.0 200.0C381.2 196.7 379.3 194.0 377.0 190.0C374.7 186.0 371.7 180.7 369.0 176.0C366.3 171.3 363.8 166.5 361.0 162.0C358.2 157.5 354.5 151.6 352.0 149.0C349.5 146.4 347.0 146.9 346.0 146.5M499.8 172.6C498.8 174.0 495.6 177.0 494.0 180.8C492.4 184.6 490.8 190.6 489.9 195.5C488.9 200.4 488.7 204.8 488.3 210.0C487.9 215.2 487.8 220.9 487.5 226.4C487.2 231.9 487.4 236.8 486.6 242.8C485.8 248.8 484.3 256.7 482.5 262.4C480.7 268.1 478.4 273.1 476.0 277.2C473.6 281.3 470.8 284.7 467.8 287.0C464.8 289.3 460.7 290.6 458.0 291.1C455.3 291.7 453.9 291.5 451.4 290.3C448.9 289.1 446.5 286.2 443.2 283.7C439.9 281.2 435.9 278.2 431.8 275.5C427.7 272.8 423.0 270.0 418.6 267.3C414.2 264.6 409.6 262.2 405.5 259.2C401.4 256.2 397.7 253.1 394.1 249.3C390.6 245.5 387.2 240.8 384.2 236.2C381.2 231.6 378.2 225.9 376.0 221.5C373.8 217.1 372.8 213.4 371.1 210.0C369.4 206.6 368.2 205.0 366.0 201.0C363.8 197.0 360.7 190.8 358.0 186.0C355.3 181.2 352.0 175.2 350.0 172.0C348.0 168.8 346.7 167.6 346.0 166.7M345.9 203.5C346.5 204.6 348.6 207.6 349.8 210.0C351.0 212.4 351.7 214.6 353.1 218.2C354.5 221.8 355.8 226.7 358.0 231.3C360.2 235.9 362.9 241.3 366.2 246.0C369.5 250.7 373.3 255.4 377.7 259.2C382.1 263.0 387.2 266.0 392.4 269.0C397.6 272.0 403.3 274.5 408.8 277.2C414.3 279.9 420.3 282.7 425.2 285.4C430.1 288.1 435.0 291.0 438.3 293.6C441.6 296.2 442.2 298.0 444.9 300.8C447.6 303.6 451.4 307.1 454.7 310.6C458.0 314.2 461.8 318.3 464.5 322.1C467.2 325.9 469.2 328.9 471.1 333.5C473.0 338.1 475.2 346.8 476.0 349.5M360.8 309.0C360.8 308.4 361.2 309.2 360.5 305.7C359.8 302.1 356.9 292.9 356.4 287.7C355.8 282.5 356.1 277.3 357.2 274.6C358.3 271.9 360.3 271.9 362.9 271.6C365.5 271.3 369.8 272.3 372.8 272.9C375.8 273.5 376.9 274.0 381.0 275.4C385.1 276.8 391.9 278.8 397.4 281.1C402.8 283.4 408.5 286.6 413.7 289.3C418.9 292.0 424.4 294.8 428.5 297.5C432.6 300.2 435.3 303.0 438.3 305.7C441.3 308.4 443.8 310.6 446.5 313.9C449.2 317.2 452.2 321.5 454.7 325.3C457.2 329.1 459.2 332.8 461.3 336.8C463.4 340.8 466.1 347.4 467.0 349.5M367.0 336.8L366.2 349.5M374.4 310.5C374.5 309.3 374.4 304.8 375.2 303.2C376.0 301.6 377.0 301.1 379.3 300.8C381.6 300.5 385.6 300.9 389.2 301.6C392.8 302.3 398.7 304.3 400.6 304.9M433.4 310.6C434.8 311.7 438.9 314.2 441.6 317.2C444.3 320.2 447.5 324.8 449.8 328.6C452.1 332.4 454.0 336.6 455.5 340.1C457.0 343.6 458.2 347.9 458.8 349.5M376.5 337.0L375.8 349.5M387.5 349.5C387.4 346.8 386.7 337.8 386.7 333.5C386.7 329.2 386.8 325.7 387.5 323.7C388.2 321.7 389.2 321.9 390.8 321.3C392.4 320.8 395.5 320.4 397.4 320.4C399.3 320.4 401.5 321.1 402.3 321.3M434.2 323.7C435.4 324.8 439.3 327.8 441.6 330.3C443.9 332.8 446.2 335.3 448.1 338.5C450.0 341.7 452.3 347.7 453.1 349.5M397.4 345.5L400.6 340.1M430.1 341.7C431.5 342.2 435.8 343.7 438.3 345.0C440.8 346.3 443.8 348.8 444.9 349.5M301.7 262.1C303.9 262.5 310.7 263.1 315.0 264.5C319.3 265.9 324.3 268.1 327.6 270.5C330.9 272.9 332.9 276.1 335.0 279.0C337.1 281.9 338.4 284.1 340.0 287.7C341.6 291.3 343.3 295.9 344.9 300.8C346.5 305.7 348.2 311.8 349.8 317.2C351.4 322.6 353.3 328.1 354.7 333.5C356.1 338.9 357.4 346.8 358.0 349.5M486.0 349.5C485.8 348.4 485.7 345.2 485.0 343.0C484.3 340.8 482.5 337.2 482.0 336.0M499.8 318.0C499.0 318.7 496.6 320.5 495.0 322.0C493.4 323.5 490.8 326.2 490.0 327.0"/>
<clipPath id="cL4"><rect x="300.0" y="255.0" width="58.0" height="96.0"/></clipPath>
<path clip-path="url(#cL4)" d="M301.7 262.1C303.9 262.5 310.7 263.1 315.0 264.5C319.3 265.9 324.3 268.1 327.6 270.5C330.9 272.9 332.9 276.1 335.0 279.0C337.1 281.9 338.4 284.1 340.0 287.7C341.6 291.3 343.3 295.9 344.9 300.8C346.5 305.7 348.2 311.8 349.8 317.2C351.4 322.6 353.3 328.1 354.7 333.5C356.1 338.9 357.4 346.8 358.0 349.5M360.8 309.0C360.8 308.4 361.2 309.2 360.5 305.7C359.8 302.1 356.9 292.9 356.4 287.7C355.8 282.5 356.1 277.3 357.2 274.6C358.3 271.9 360.3 271.9 362.9 271.6C365.5 271.3 369.8 272.3 372.8 272.9C375.8 273.5 376.9 274.0 381.0 275.4C385.1 276.8 391.9 278.8 397.4 281.1C402.8 283.4 408.5 286.6 413.7 289.3C418.9 292.0 424.4 294.8 428.5 297.5C432.6 300.2 435.3 303.0 438.3 305.7C441.3 308.4 443.8 310.6 446.5 313.9C449.2 317.2 452.2 321.5 454.7 325.3C457.2 329.1 459.2 332.8 461.3 336.8C463.4 340.8 466.1 347.4 467.0 349.5"/>
</g>
</defs>
<g clip-path="url(#cpL)">
<path d="M79.0 9.0L496.0 9.0L496.0 13.0L492.4 20.0L491.7 37.6L487.9 50.1L484.1 67.6L482.9 87.7L481.6 97.7L480.4 105.0L477.9 110.0L474.1 120.0L467.9 130.1L460.3 140.1L450.3 150.1L440.3 160.6L427.8 165.1L415.3 167.6L402.7 171.4L390.2 177.6L380.2 185.2L372.7 193.9L362.6 204.0L350.1 212.7L337.6 217.7L322.6 220.7L305.0 220.7L290.4 217.7L275.4 211.5L260.4 206.5L245.3 198.9L232.8 190.2L220.3 180.2L210.3 170.1L200.3 161.4L187.7 150.1L175.2 138.8L166.4 130.8L147.6 130.8L137.6 135.1L128.9 145.1L120.1 156.4L113.8 163.9L112.6 173.9L107.6 181.4L95.0 190.2L80.0 201.4L78.0 203.0Z" fill="#ff0000"/>
<g class="cr" clip-path="url(#redL)" style="stroke:#bd0000"><use href="#lnL"/></g>
<g class="cn" clip-path="url(#whtL)"><use href="#lnL"/></g>
</g>
<g stroke="#161616" fill="none" stroke-linecap="butt">
<path stroke-width="2.80" d="M79.40 11.35V351.05"/>
<path stroke-width="2.10" d="M78.00 350.00H501.50"/>
<path stroke-width="2.00" stroke="#2a2a2a" d="M78.00 12.35H501.50"/>
<path stroke-width="2.00" stroke="#1c1c1c" d="M500.50 11.35V351.05"/>
<path stroke-width="1.4" d="M121.51 349.15v-3.30M163.62 349.15v-6.50M205.73 349.15v-3.30M247.84 349.15v-6.50M289.95 349.15v-3.30M332.06 349.15v-6.50M374.17 349.15v-3.30M416.28 349.15v-6.50M458.39 349.15v-3.30M80.60 40.49h2.60M80.60 68.62h6.40M80.60 96.76h2.60M80.60 124.90h6.40M80.60 153.04h2.60M80.60 181.17h6.40M80.60 209.31h2.60M80.60 237.45h6.40M80.60 265.59h2.60M80.60 293.73h6.40M80.60 321.86h2.60"/>
</g>
<rect x="448.1" y="149.0" width="5.4" height="26.0" fill="#ff0a0a"/>
<rect x="448.1" y="192.5" width="5.4" height="5.7" fill="#ff0a0a"/>
<rect x="448.1" y="216.5" width="5.4" height="24.5" fill="#ff0a0a"/>
<rect x="448.1" y="258.8" width="5.4" height="5.7" fill="#ff0a0a"/>
<rect x="448.1" y="283.0" width="5.4" height="23.5" fill="#ff0a0a"/>
<rect x="448.1" y="325.2" width="5.4" height="5.2" fill="#ff0a0a"/>
<rect x="448.1" y="348.3" width="5.4" height="5.9" fill="#ff0a0a"/>
<text class="tk" x="79.4" y="373.8" text-anchor="middle">800</text>
<text class="tk" x="163.6" y="373.8" text-anchor="middle">850</text>
<text class="tk" x="247.8" y="373.8" text-anchor="middle">900</text>
<text class="tk" x="332.1" y="373.8" text-anchor="middle">950</text>
<text class="tk" x="416.3" y="373.8" text-anchor="middle">1000</text>
<text class="tk" x="500.5" y="373.8" text-anchor="middle">1050</text>
<text class="tk" x="71.2" y="18.9" text-anchor="end" style="font-size:20.5px">1.0</text>
<text class="tk" x="71.2" y="75.2" text-anchor="end" style="font-size:20.5px">0.5</text>
<text class="tk" x="71.2" y="131.5" text-anchor="end" style="font-size:20.5px">0.0</text>
<text class="tk" x="71.2" y="187.8" text-anchor="end" style="font-size:20.5px">-0.5</text>
<text class="tk" x="71.2" y="244.0" text-anchor="end" style="font-size:20.5px">-1.0</text>
<text class="tk" x="71.2" y="300.3" text-anchor="end" style="font-size:20.5px">-1.5</text>
<text class="tk" x="71.2" y="356.6" text-anchor="end" style="font-size:20.5px">-2.0</text>
<text class="ax" x="216.5" y="398.6">Temperature/<tspan dx="2">℃</tspan></text>
<g clip-path="url(#cpL)">
<text class="cl" transform="translate(122.6 24.5) scale(0.955 1)" style="font-size:18.4px;fill:#620000;stroke:#620000">0.23</text>
<text class="cl" transform="translate(155.2 24.5) scale(0.955 1)" style="font-size:18.4px;fill:#620000;stroke:#620000">0.26</text>
<text class="cl" transform="translate(260.4 38.5) scale(0.955 1)" style="font-size:18.4px;fill:#620000;stroke:#620000">0.084</text>
<text class="cl" transform="translate(294.0 29.0) scale(0.955 1)" style="font-size:18.4px;fill:#620000;stroke:#620000">0.049</text>
<text class="cl" transform="translate(318.0 28.5) scale(0.955 1)" style="font-size:18.4px;fill:#620000;stroke:#620000">0.12</text>
<text class="cl" transform="translate(336.0 28.8) scale(0.955 1)" style="font-size:18.4px;fill:#620000;stroke:#620000">0.16</text>
<text class="cl" transform="translate(336.3 53.0) scale(0.955 1)" style="font-size:18.4px;fill:#620000;stroke:#620000">0.19</text>
<text class="cl" transform="translate(298.8 77.4) scale(0.955 1)" style="font-size:18.4px;fill:#620000;stroke:#620000">0.23</text>
<text class="cl" transform="translate(298.8 86.0) scale(0.955 1)" style="font-size:18.4px;fill:#620000;stroke:#620000">0.26</text>
<text class="cl" transform="translate(370.2 83.4) scale(0.955 1)" style="font-size:18.4px;fill:#620000;stroke:#620000">0.30</text>
<text class="cl" transform="translate(412.7 28.3) scale(0.955 1)" style="font-size:18.4px;fill:#620000;stroke:#620000">0.47</text>
<text class="cl" transform="translate(443.0 28.3) scale(0.955 1)" style="font-size:18.4px;fill:#620000;stroke:#620000">0.40</text>
<text class="cl" transform="translate(466.0 28.0) scale(0.955 1)" style="font-size:18.4px;fill:#620000;stroke:#620000">0.24</text>
<text class="cl" transform="translate(424.0 63.0) scale(0.955 1)" style="font-size:18.4px;fill:#620000;stroke:#620000">0.44</text>
<text class="cl" transform="translate(469.0 53.6) scale(0.955 1)" style="font-size:18.4px;fill:#620000;stroke:#620000">0.33</text>
<text class="cl" transform="translate(466.0 53.6) scale(0.955 1)" style="font-size:18.4px;fill:#620000;stroke:#620000">0.3</text>
<text class="cl" transform="translate(470.4 77.4) scale(0.955 1)" style="font-size:18.4px;fill:#620000;stroke:#620000">0.37</text>
<text class="cl" transform="translate(357.6 120.2) scale(0.955 1)" style="font-size:18.4px;fill:#620000;stroke:#620000">0.33</text>
<text class="cl" transform="translate(327.6 136.0) scale(0.955 1)" style="font-size:18.4px;fill:#620000;stroke:#620000">0.40</text>
<text class="cl" transform="translate(351.4 136.0) scale(0.955 1)" style="font-size:18.4px;fill:#620000;stroke:#620000">0.37</text>
<text class="cl" transform="translate(302.5 164.6) scale(0.955 1)" style="font-size:18.4px;fill:#620000;stroke:#620000">0.47</text>
<text class="cl" transform="translate(96.3 123.5) scale(0.955 1)" style="font-size:18.4px;fill:#620000;stroke:#620000">0.049</text>
<text class="cl" transform="translate(102.6 160.6) scale(0.955 1)" style="font-size:18.4px">0.084</text>
<text class="cl" transform="translate(120.0 175.9) scale(0.955 1)" style="font-size:18.4px">0.12</text>
<text class="cl" transform="translate(164.0 167.6) scale(0.955 1)" style="font-size:18.4px">0.19</text>
<text class="cl" transform="translate(100.0 206.0) scale(0.955 1)" style="font-size:18.4px">0.16</text>
<text class="cl" transform="translate(214.0 237.0) scale(0.955 1)" style="font-size:18.4px">0.44</text>
<text class="cl" transform="translate(273.0 265.8) scale(0.955 1)" style="font-size:18.4px">0.51</text>
<text class="cl" transform="translate(261.6 298.4) scale(0.955 1)" style="font-size:18.4px">0.51</text>
<text class="cl" transform="translate(288.0 326.0) scale(0.955 1)" style="font-size:18.4px">0.47</text>
<text class="cl" transform="translate(105.0 339.0) scale(0.955 1)" style="font-size:18.4px">0.54</text>
<text class="cl" transform="translate(140.6 334.0) scale(0.955 1)" style="font-size:18.4px">0.58</text>
<text class="cl" transform="translate(145.0 345.0) scale(0.955 1)" style="font-size:18.4px">0.62</text>
<text class="cl" transform="translate(348.9 322.2) scale(0.955 1)" style="font-size:18.4px">0.54</text>
<text class="cl" transform="translate(361.4 335.2) scale(0.955 1)" style="font-size:18.4px">0.58</text>
<text class="cl" transform="translate(402.7 314.4) scale(0.955 1)" style="font-size:18.4px;fill:#000;stroke:#000">0.58</text>
<text class="cl" transform="translate(402.7 327.2) scale(0.955 1)" style="font-size:18.4px;fill:#000;stroke:#000">0.62</text>
<text class="cl" transform="translate(400.2 343.5) scale(0.955 1)" style="font-size:18.4px">0.65</text>
<text class="cl" transform="translate(477.9 339.5) scale(0.955 1)" style="font-size:18.4px">0.4</text>
</g>
<text class="rm" x="160.3" y="314.0" style="font-size:26.5px;" textLength="5.8" lengthAdjust="spacingAndGlyphs">I</text>
<text class="rm" x="380.2" y="309.0" style="font-size:27.5px;" textLength="12.5" lengthAdjust="spacingAndGlyphs">II</text>
<text class="rm" x="289.0" y="133.0" style="fill:#2a0000;font-size:26.5px;" textLength="15" lengthAdjust="spacingAndGlyphs">IV</text>
<defs>
<clipPath id="redR"><path d="M565.0 8.0L977.6 8.0L977.5 105.0L974.9 130.1L972.4 145.1L967.4 158.9L959.9 170.1L949.9 178.9L937.4 184.7L922.3 186.4L902.3 186.4L882.3 185.2L862.2 183.9L842.2 183.9L824.6 185.7L807.1 188.9L789.6 191.4L774.9 190.7L762.4 188.9L749.9 185.2L737.4 180.2L724.8 173.9L712.3 166.4L702.3 158.9L696.0 154.6L692.8 157.6L693.5 165.1L696.0 177.6L694.8 185.2L689.8 188.9L682.2 186.4L673.5 178.9L667.2 167.6L662.2 153.8L658.4 143.8L654.7 143.1L648.4 148.8L642.2 158.9L634.6 167.6L622.1 170.6L608.3 171.4L602.1 175.1L599.1 182.7L595.8 192.7L589.6 201.4L579.5 210.2L567.0 219.0L565.0 220.5Z"/></clipPath>
<clipPath id="whtR"><path clip-rule="evenodd" d="M564.3 9.0H988.2V351.3H564.3ZM565.0 8.0L977.6 8.0L977.5 105.0L974.9 130.1L972.4 145.1L967.4 158.9L959.9 170.1L949.9 178.9L937.4 184.7L922.3 186.4L902.3 186.4L882.3 185.2L862.2 183.9L842.2 183.9L824.6 185.7L807.1 188.9L789.6 191.4L774.9 190.7L762.4 188.9L749.9 185.2L737.4 180.2L724.8 173.9L712.3 166.4L702.3 158.9L696.0 154.6L692.8 157.6L693.5 165.1L696.0 177.6L694.8 185.2L689.8 188.9L682.2 186.4L673.5 178.9L667.2 167.6L662.2 153.8L658.4 143.8L654.7 143.1L648.4 148.8L642.2 158.9L634.6 167.6L622.1 170.6L608.3 171.4L602.1 175.1L599.1 182.7L595.8 192.7L589.6 201.4L579.5 210.2L567.0 219.0L565.0 220.5Z"/></clipPath>
<g id="lnR">
<clipPath id="cR0"><rect x="562.0" y="8.0" width="163.0" height="85.0"/></clipPath>
<path clip-path="url(#cR0)" d="M588.8 13.0C590.8 13.8 596.7 16.5 600.6 18.1C604.5 19.7 607.2 21.4 612.0 22.5C616.8 23.6 624.0 23.7 629.1 24.8C634.2 25.9 638.0 28.0 642.5 29.0C647.0 30.0 652.0 30.8 655.9 30.6C659.8 30.5 663.4 29.6 666.0 28.1C668.6 26.6 670.7 23.9 671.8 21.4C672.9 18.9 672.6 14.4 672.7 13.0M617.3 13.0C619.2 13.4 624.8 14.9 629.0 15.5C633.2 16.1 638.6 16.8 642.5 16.4C646.4 16.0 650.8 13.6 652.5 13.0M565.0 18.0C565.3 18.1 564.7 18.0 567.0 18.9C569.3 19.8 574.0 21.3 578.8 23.1C583.5 24.9 589.9 27.9 595.5 29.8C601.1 31.8 606.7 33.3 612.3 34.8C617.9 36.3 625.3 38.0 629.1 39.0C632.9 40.0 634.0 40.2 635.0 40.5M660.1 53.3C661.4 54.7 665.5 58.6 667.6 61.7C669.7 64.8 671.3 68.1 672.7 71.7C674.1 75.3 675.2 79.3 676.0 83.5C676.8 87.7 677.4 94.8 677.7 97.0M565.0 44.0C567.3 44.0 573.7 43.4 578.8 44.0C583.9 44.6 589.9 46.0 595.5 47.4C601.1 48.8 606.7 50.6 612.3 52.4C617.9 54.2 624.1 55.9 629.1 58.3C634.1 60.7 638.6 63.6 642.5 66.7C646.4 69.8 649.7 73.1 652.5 76.7C655.3 80.3 657.8 85.1 659.3 88.5C660.8 91.9 661.4 95.6 661.8 97.0M583.0 97.0C583.1 95.0 582.8 88.8 583.8 85.1C584.8 81.4 586.3 77.8 588.8 75.1C591.3 72.4 595.3 70.0 598.9 69.2C602.5 68.4 606.7 69.0 610.6 70.0C614.5 71.0 618.8 72.8 622.4 75.1C626.0 77.3 629.6 80.7 632.4 83.5C635.2 86.3 637.6 89.5 639.1 91.8C640.6 94.0 641.2 96.1 641.6 97.0M685.2 13.0C685.9 15.0 687.6 20.6 689.4 24.8C691.2 29.0 693.6 34.6 696.1 38.2C698.6 41.8 701.1 44.2 704.5 46.6C707.9 49.0 712.0 50.7 716.3 52.4C720.5 54.1 727.7 55.9 730.0 56.6M691.5 13.0C692.2 14.7 693.8 19.7 695.5 23.0C697.2 26.3 699.4 30.2 702.0 33.0C704.6 35.8 708.0 37.9 711.0 39.5C714.0 41.1 715.7 40.7 720.0 42.4C724.3 44.1 734.0 48.6 736.8 49.9M697.8 13.0C698.4 14.4 699.5 18.6 701.2 21.4C702.9 24.2 705.1 27.6 707.9 29.8C710.7 32.0 714.2 33.0 717.9 34.5C721.6 36.0 728.0 37.8 730.0 38.5M707.9 13.0C708.7 14.1 710.7 17.7 712.9 19.7C715.1 21.7 718.4 23.5 721.3 25.0C724.1 26.5 728.5 27.9 730.0 28.5M719.6 13.0C720.4 13.6 722.9 15.4 724.6 16.5C726.3 17.6 729.1 19.0 730.0 19.5M692.8 97.0C693.1 94.8 693.4 87.2 694.5 83.5C695.6 79.8 697.0 77.3 699.5 75.1C702.0 72.8 706.0 71.3 709.6 70.0C713.2 68.7 717.9 67.8 721.3 67.5C724.7 67.2 728.5 68.1 730.0 68.2M707.9 97.0C708.7 95.9 710.7 92.2 712.9 90.5C715.1 88.8 718.4 87.5 721.3 86.8C724.1 86.1 728.5 86.3 730.0 86.2M712.9 106.8C714.1 105.0 717.5 98.3 720.0 96.0C722.5 93.7 725.2 93.5 728.0 93.0C730.8 92.5 735.3 92.8 736.8 92.7"/>
<clipPath id="cR1"><rect x="725.0" y="8.0" width="139.0" height="85.0"/></clipPath>
<path clip-path="url(#cR1)" d="M719.6 13.0C721.0 13.7 725.1 15.3 728.0 17.0C730.9 18.7 732.5 20.4 736.8 23.1C741.0 25.8 747.9 29.6 753.5 33.2C759.1 36.8 764.7 41.4 770.3 44.9C775.9 48.4 782.5 52.0 787.1 54.1C791.7 56.2 796.2 56.9 798.0 57.5M820.6 58.3C822.0 57.5 827.1 55.3 829.0 53.3C830.9 51.2 831.5 47.2 832.0 46.0M827.3 38.2C825.1 36.0 818.1 29.0 813.9 24.8C809.7 20.6 804.2 15.0 802.2 13.0M736.8 13.0C739.6 14.7 748.2 19.7 753.5 23.1C758.8 26.5 766.1 31.5 768.6 33.2M800.5 39.9C801.3 39.8 805.0 39.9 805.5 39.0C806.0 38.1 805.5 37.2 803.8 34.8C802.1 32.4 798.3 28.1 795.5 24.8C792.7 21.5 788.8 16.7 787.1 14.7C785.4 12.7 785.7 13.3 785.4 13.0M707.9 13.0C709.9 14.7 715.2 20.0 720.0 23.1C724.8 26.2 731.2 28.4 736.8 31.5C742.4 34.6 747.9 37.9 753.5 41.5C759.1 45.1 764.7 49.9 770.3 53.3C775.9 56.7 781.5 59.6 787.1 61.7C792.7 63.8 798.2 65.2 803.8 65.8C809.4 66.3 816.1 66.0 820.6 65.0C825.1 64.0 827.9 62.2 830.7 60.0C833.5 57.8 836.3 53.0 837.4 51.6M840.7 39.9C839.6 38.2 836.8 33.2 834.0 29.8C831.2 26.4 827.1 22.5 824.0 19.7C820.9 16.9 817.0 14.1 815.6 13.0M720.0 33.2C722.8 34.6 731.2 38.4 736.8 41.5C742.4 44.6 747.9 48.2 753.5 51.6C759.1 55.0 764.7 58.9 770.3 61.7C775.9 64.5 781.5 66.6 787.1 68.4C792.7 70.2 798.2 71.9 803.8 72.6C809.4 73.3 816.7 73.0 820.6 72.6C824.5 72.2 826.2 70.4 827.3 70.0M850.0 63.3C850.4 61.1 852.6 54.4 852.5 49.9C852.4 45.4 851.1 40.7 849.1 36.5C847.1 32.3 843.8 28.7 840.7 24.8C837.6 20.9 832.4 15.0 830.7 13.0M720.0 42.4C722.8 43.6 731.2 47.2 736.8 49.9C742.4 52.5 749.5 56.1 753.5 58.3C757.5 60.5 759.8 62.5 761.1 63.3M785.4 66.7C787.1 67.8 791.9 71.6 795.5 73.4C799.1 75.2 802.5 76.8 807.2 77.6C812.0 78.4 819.0 78.6 824.0 78.4C829.0 78.2 833.5 77.8 837.4 76.7C841.3 75.6 844.6 73.9 847.4 71.7C850.2 69.5 852.5 66.9 854.1 63.3C855.7 59.7 856.7 54.4 856.7 49.9C856.7 45.4 855.7 40.7 854.1 36.5C852.5 32.3 849.9 28.7 847.4 24.8C844.9 20.9 840.4 15.0 839.0 13.0M720.0 53.3C722.8 54.1 731.2 56.3 736.8 58.3C742.4 60.2 748.8 62.9 753.5 65.0C758.2 67.1 763.3 69.9 765.3 70.9M789.6 75.1C791.4 75.9 796.5 78.7 800.5 80.1C804.5 81.5 808.9 82.9 813.9 83.5C818.9 84.1 825.7 83.9 830.7 83.5C835.7 83.1 840.2 82.3 844.1 80.9C848.0 79.5 851.5 77.8 854.1 75.1C856.8 72.4 858.7 69.2 860.0 65.0C861.3 60.8 861.7 54.6 861.7 49.9C861.7 45.1 861.3 40.7 860.0 36.5C858.7 32.3 856.2 28.7 854.1 24.8C852.0 20.9 848.5 15.0 847.4 13.0M720.0 66.7C722.8 67.1 731.2 68.2 736.8 69.2C742.4 70.2 747.9 71.3 753.5 72.6C759.1 73.8 764.7 75.2 770.3 76.7C775.9 78.2 782.1 80.2 787.1 81.8C792.1 83.3 797.1 84.9 800.5 86.0C803.9 87.1 806.1 88.1 807.2 88.5M830.7 88.5C832.9 88.3 839.9 88.4 844.1 87.6C848.3 86.8 852.4 85.6 855.8 83.5C859.1 81.4 862.2 78.5 864.2 75.1C866.2 71.7 867.0 67.5 867.6 63.3C868.2 59.1 868.0 54.4 867.6 49.9C867.2 45.4 866.1 40.7 865.0 36.5C863.9 32.3 862.3 28.7 860.8 24.8C859.3 20.9 856.6 15.0 855.8 13.0M720.0 75.4C722.8 75.8 731.2 76.9 736.8 77.6C742.4 78.2 747.9 78.5 753.5 79.3C759.1 80.1 764.7 81.2 770.3 82.6C775.9 84.0 782.1 85.9 787.1 87.6C792.1 89.3 796.6 91.1 800.5 92.7C804.4 94.3 808.8 96.3 810.5 97.0M720.0 86.8C722.8 86.7 731.2 86.0 736.8 86.0C742.4 86.0 747.9 86.2 753.5 86.8C759.1 87.3 764.7 88.0 770.3 89.3C775.9 90.6 783.2 93.1 787.1 94.4C791.0 95.7 792.7 96.6 793.8 97.0M720.0 95.2C722.8 94.8 731.2 93.0 736.8 92.7C742.4 92.4 749.0 92.8 753.5 93.5C758.0 94.2 761.9 96.4 763.6 97.0M870.9 97.0C871.2 95.6 872.2 92.2 872.6 88.5C873.0 84.8 873.4 80.1 873.4 75.1C873.4 70.1 873.0 63.9 872.6 58.3C872.2 52.7 871.7 46.5 870.9 41.5C870.1 36.5 869.0 32.9 867.6 28.1C866.2 23.4 863.4 15.5 862.5 13.0"/>
<clipPath id="cR2"><rect x="864.0" y="8.0" width="126.0" height="85.0"/></clipPath>
<path clip-path="url(#cR2)" d="M844.1 87.6C846.0 86.9 852.4 85.6 855.8 83.5C859.1 81.4 862.2 78.5 864.2 75.1C866.2 71.7 867.0 67.5 867.6 63.3C868.2 59.1 868.0 54.4 867.6 49.9C867.2 45.4 866.1 40.7 865.0 36.5C863.9 32.3 862.3 28.7 860.8 24.8C859.3 20.9 856.6 15.0 855.8 13.0M870.9 97.0C871.2 95.6 872.2 92.2 872.6 88.5C873.0 84.8 873.4 80.1 873.4 75.1C873.4 70.1 873.0 63.9 872.6 58.3C872.2 52.7 871.7 46.5 870.9 41.5C870.1 36.5 869.0 32.9 867.6 28.1C866.2 23.4 863.4 15.5 862.5 13.0M877.6 97.0C877.7 93.3 878.4 82.9 878.4 75.1C878.4 67.2 878.3 57.7 877.6 49.9C876.9 42.1 875.5 34.2 874.3 28.1C873.0 22.0 870.8 15.5 870.1 13.0M883.5 97.0C883.6 93.3 884.3 82.9 884.3 75.1C884.3 67.2 884.2 57.7 883.5 49.9C882.8 42.1 881.2 34.2 880.1 28.1C879.0 22.0 877.3 15.5 876.8 13.0M883.4 13.0C883.9 16.4 885.3 25.7 886.1 33.2C886.9 40.8 887.7 51.3 888.1 58.3C888.5 65.3 888.7 68.6 888.6 75.1C888.5 81.5 887.9 93.3 887.8 97.0M890.3 13.0C890.9 15.5 892.7 22.0 893.7 28.1C894.7 34.2 895.7 42.1 896.2 49.9C896.8 57.7 897.0 67.2 897.0 75.1C897.0 82.9 896.3 93.3 896.2 97.0M907.1 97.0C907.0 93.3 906.4 81.5 906.2 75.1C906.1 68.6 906.1 63.0 906.2 58.3C906.4 53.5 906.1 49.5 907.1 46.6C908.1 43.7 909.9 41.8 912.1 40.7C914.3 39.6 917.4 39.2 920.5 39.9C923.6 40.6 927.1 42.7 930.5 44.9C933.9 47.1 936.7 49.9 940.6 53.3C944.5 56.6 949.5 61.1 954.0 65.0C958.5 68.9 963.5 73.4 967.4 76.7C971.3 80.0 975.8 83.7 977.5 85.1M930.5 97.0C931.1 95.6 932.2 90.5 933.9 88.5C935.6 86.5 937.8 85.4 940.6 85.1C943.4 84.8 947.4 85.7 950.7 86.8C954.1 87.9 957.9 90.1 960.7 91.8C963.5 93.5 966.3 96.1 967.4 97.0M918.8 13.0C919.6 14.4 921.3 18.0 923.8 21.4C926.3 24.8 930.0 29.0 933.9 33.2C937.8 37.4 942.8 42.1 947.3 46.6C951.8 51.1 956.2 55.5 960.7 60.0C965.2 64.5 971.3 70.6 974.1 73.4C976.9 76.2 976.9 76.2 977.5 76.7M925.5 13.0C926.6 14.4 929.1 18.0 932.2 21.4C935.3 24.8 939.8 29.0 944.0 33.2C948.2 37.4 952.9 42.1 957.4 46.6C961.9 51.1 967.4 56.6 970.8 60.0C974.1 63.4 976.4 65.6 977.5 66.7M933.9 13.0C935.0 14.1 937.2 16.6 940.6 19.7C944.0 22.8 950.1 27.9 954.0 31.5C957.9 35.1 960.2 37.6 964.1 41.5C968.0 45.4 975.3 52.7 977.5 54.9M944.0 13.0C946.2 15.0 953.5 21.2 957.4 24.8C961.3 28.4 964.0 31.4 967.4 34.8C970.8 38.1 975.8 43.2 977.5 44.9M954.0 13.0C956.2 15.0 963.5 21.4 967.4 24.8C971.3 28.2 975.8 31.8 977.5 33.2M964.1 13.0L977.5 23.1M977.0 16.0L986.0 24.0M977.0 23.1L986.0 33.0M977.0 33.2L986.0 43.0M977.0 44.9L986.0 55.0M977.0 54.9L986.0 65.0M977.0 66.7L986.0 77.0M977.0 76.7L986.0 87.0M977.0 85.1L986.0 96.0"/>
<clipPath id="cR3"><rect x="562.0" y="93.0" width="163.0" height="81.0"/></clipPath>
<path clip-path="url(#cR3)" d="M583.0 90.0C583.1 92.2 582.8 98.9 583.8 103.4C584.8 107.9 586.6 112.6 588.8 116.8C591.0 121.0 594.1 125.2 597.2 128.6C600.3 132.0 604.8 135.2 607.3 137.0C609.8 138.8 611.5 139.1 612.3 139.5M638.3 137.0C639.0 135.6 641.4 132.2 642.5 128.6C643.6 125.0 644.7 120.0 645.0 115.2C645.3 110.5 644.8 104.3 644.2 100.1C643.6 95.9 642.0 91.7 641.6 90.0M565.0 135.5C565.3 135.8 564.7 135.4 567.0 137.0C569.3 138.6 574.6 142.2 578.8 145.3C583.0 148.4 588.0 152.6 592.2 155.4C596.4 158.2 601.4 160.7 603.9 162.1C606.4 163.5 606.7 163.5 607.3 163.8M634.1 167.1C635.5 166.0 639.7 163.5 642.5 160.4C645.3 157.3 648.4 153.2 650.9 148.7C653.4 144.2 655.9 139.2 657.6 133.6C659.3 128.0 660.2 120.8 660.9 115.2C661.6 109.6 661.6 104.3 661.8 100.1C661.9 95.9 661.8 91.7 661.8 90.0M653.0 177.5C653.8 176.9 656.0 176.0 657.6 174.0C659.2 172.0 660.7 169.6 662.6 165.4C664.5 161.2 667.3 154.3 669.3 148.7C671.2 143.1 673.0 137.5 674.3 131.9C675.6 126.3 676.3 120.5 676.9 115.2C677.5 109.9 677.6 104.3 677.7 100.1C677.8 95.9 677.7 91.7 677.7 90.0M565.0 159.0C565.3 159.2 564.7 159.1 567.0 160.4C569.3 161.8 574.9 164.9 578.8 167.1C582.7 169.3 587.1 171.8 590.5 173.8C593.9 175.8 597.5 178.1 598.9 179.0M692.8 90.0C692.7 92.2 692.6 98.4 692.0 103.4C691.4 108.4 690.7 114.6 689.4 120.2C688.1 125.8 686.3 131.4 684.4 137.0C682.5 142.6 679.6 148.9 677.7 153.7C675.8 158.5 674.0 162.6 673.0 166.0C672.0 169.4 671.8 172.2 671.5 174.0C671.2 175.8 671.1 176.5 671.0 177.0M707.9 90.0C707.3 92.2 706.2 98.4 704.5 103.4C702.8 108.4 700.0 114.6 697.8 120.2C695.6 125.8 693.0 132.0 691.1 137.0C689.2 142.0 687.4 145.9 686.1 150.4C684.8 154.9 684.1 159.9 683.5 163.8C682.9 167.7 682.9 171.8 682.7 174.0C682.5 176.2 682.5 176.5 682.5 177.0M736.8 92.7C735.3 92.8 730.6 92.5 728.0 93.0C725.4 93.5 723.5 93.2 721.0 95.5C718.5 97.8 715.6 102.1 712.9 106.8C710.1 111.5 707.0 117.9 704.5 123.5C702.0 129.1 699.6 135.3 697.8 140.3C696.0 145.3 694.7 149.8 693.8 153.7C692.9 157.6 692.6 160.4 692.3 163.8C692.0 167.2 692.1 171.8 692.0 174.0C691.9 176.2 691.8 176.5 691.8 177.0M745.2 96.7C742.7 97.5 734.0 98.6 730.0 101.7C726.0 104.8 724.1 110.2 721.3 115.2C718.4 120.2 715.4 126.6 712.9 131.9C710.4 137.2 708.0 142.3 706.2 147.0C704.4 151.7 703.0 155.5 702.0 160.0C701.0 164.5 700.5 171.2 700.2 174.0C699.9 176.8 700.0 176.5 700.0 177.0M736.8 110.0C735.7 111.1 732.3 113.7 730.0 116.8C727.7 119.9 725.3 124.1 723.0 128.6C720.7 133.1 718.2 138.9 716.3 143.7C714.4 148.4 712.7 153.0 711.5 157.1C710.3 161.2 709.5 165.2 709.0 168.0C708.5 170.8 708.8 172.5 708.8 174.0C708.8 175.5 708.7 176.5 708.7 177.0M736.8 125.2C735.7 126.3 732.3 128.6 730.0 131.9C727.7 135.2 724.9 140.6 723.0 145.3C721.1 150.1 719.7 155.6 718.5 160.4C717.3 165.2 716.5 171.2 716.0 174.0C715.5 176.8 715.8 176.5 715.7 177.0"/>
<clipPath id="cR4"><rect x="725.0" y="93.0" width="139.0" height="81.0"/></clipPath>
<path clip-path="url(#cR4)" d="M793.8 97.0C795.7 97.8 800.6 100.2 805.0 101.5C809.4 102.8 814.2 104.0 820.0 105.0C825.8 106.0 833.3 107.1 840.0 107.5C846.7 107.9 854.7 108.1 860.0 107.5C865.3 106.9 869.2 105.6 872.0 104.0C874.8 102.4 876.1 100.3 877.0 98.0C877.9 95.7 877.5 91.3 877.6 90.0M721.0 95.5C722.2 95.1 725.4 93.5 728.0 93.0C730.6 92.5 732.5 92.6 736.8 92.7C741.0 92.8 749.0 92.8 753.5 93.5C758.0 94.2 760.0 95.8 763.6 97.0C767.2 98.2 770.6 99.5 775.0 101.0C779.4 102.5 784.7 104.5 790.0 106.0C795.3 107.5 804.2 109.3 807.0 110.0M832.0 111.5C835.0 111.8 844.0 112.9 850.0 113.0C856.0 113.1 863.2 112.8 868.0 112.0C872.8 111.2 876.5 109.8 879.0 108.0C881.5 106.2 882.2 104.0 883.0 101.0C883.8 98.0 883.4 91.8 883.5 90.0M810.5 97.0C812.4 97.5 817.4 99.2 822.0 100.0C826.6 100.8 832.5 101.7 838.0 102.0C843.5 102.3 850.3 102.4 855.0 102.0C859.7 101.6 863.4 100.7 866.0 99.5C868.6 98.3 870.1 95.8 870.9 95.0M721.3 115.2C722.8 113.0 726.0 104.8 730.0 101.7C734.0 98.6 738.5 97.8 745.2 96.7C751.9 95.6 761.9 94.4 770.3 95.0C778.7 95.6 788.2 98.1 795.5 100.1C802.8 102.1 808.0 104.6 813.9 106.8C819.8 109.0 827.9 112.4 830.7 113.5M857.5 119.3C859.7 119.2 867.0 119.2 870.9 118.5C874.8 117.8 878.2 117.2 881.0 115.2C883.8 113.2 886.5 109.3 887.7 106.8C888.9 104.3 888.0 101.1 888.0 100.0M723.0 128.6C723.3 127.5 723.7 124.6 725.0 122.0C726.3 119.4 728.5 115.7 731.0 113.0C733.5 110.3 736.2 107.9 740.0 106.0C743.8 104.1 747.9 102.5 753.5 101.7C759.1 100.9 767.0 100.2 773.7 100.9C780.4 101.6 787.7 104.0 793.8 105.9C799.9 107.9 804.9 110.5 810.5 112.6C816.1 114.7 821.7 116.8 827.3 118.5C832.9 120.2 838.5 121.9 844.1 122.7C849.7 123.5 855.8 123.6 860.8 123.5C865.8 123.4 870.4 123.0 874.3 121.9C878.2 120.8 881.5 119.1 884.3 116.8C887.1 114.5 889.9 109.5 891.0 108.0M723.0 145.3C723.3 144.8 724.3 143.1 725.0 142.0C725.7 140.9 725.7 141.5 727.0 139.0C728.3 136.5 730.5 130.7 733.0 127.0C735.5 123.3 738.6 119.8 742.0 117.0C745.4 114.2 748.2 111.7 753.5 110.1C758.8 108.5 767.0 107.4 773.7 107.6C780.4 107.8 787.7 109.3 793.8 111.0C799.9 112.7 804.9 115.6 810.5 117.7C816.1 119.8 821.7 121.8 827.3 123.5C832.9 125.2 838.5 126.6 844.1 127.7C849.7 128.8 855.8 129.6 860.8 130.2C865.8 130.8 869.8 130.8 874.3 131.1C878.8 131.4 885.7 131.8 888.0 131.9M716.0 177.0C716.3 175.8 717.0 172.8 718.0 170.0C719.0 167.2 720.7 163.8 722.0 160.0C723.3 156.2 724.3 151.3 726.0 147.0C727.7 142.7 729.7 137.8 732.0 134.0C734.3 130.2 736.4 126.7 740.0 124.0C743.6 121.3 747.9 119.3 753.5 117.7C759.1 116.1 767.0 114.5 773.7 114.3C780.4 114.1 787.7 115.4 793.8 116.8C799.9 118.2 804.9 120.6 810.5 122.7C816.1 124.8 821.7 127.5 827.3 129.4C832.9 131.3 839.3 132.8 844.1 134.4C848.9 136.0 852.7 137.1 856.0 139.0C859.3 140.9 861.1 143.8 864.0 146.0C866.9 148.2 871.9 151.0 873.5 152.0M724.0 177.0C724.0 176.5 723.4 176.0 724.0 174.0C724.6 172.0 726.0 168.5 727.5 165.0C729.0 161.5 730.9 156.8 733.0 153.0C735.1 149.2 737.5 145.3 740.0 142.0C742.5 138.7 745.2 135.6 748.0 133.0C750.8 130.4 753.7 128.4 757.0 126.5C760.3 124.6 763.1 122.6 767.6 121.8C772.1 121.0 778.7 121.3 784.2 121.8C789.7 122.3 795.3 123.5 800.8 124.8C806.3 126.0 812.1 127.7 817.4 129.3C822.7 130.9 827.6 132.8 832.4 134.6C837.2 136.4 841.7 138.2 846.0 140.0C850.3 141.8 854.7 144.1 858.0 145.5C861.3 146.9 863.4 147.4 866.0 148.5C868.6 149.6 872.2 151.4 873.5 152.0M735.0 177.0C735.2 176.5 735.3 175.5 736.0 174.0C736.7 172.5 737.7 170.5 739.0 168.0C740.3 165.5 742.0 162.3 744.0 159.0C746.0 155.7 748.7 151.3 751.0 148.0C753.3 144.7 755.5 141.6 758.0 139.0C760.5 136.4 763.1 134.2 766.0 132.5C768.9 130.8 771.2 129.5 775.2 128.8C779.2 128.2 785.2 128.0 790.2 128.6C795.2 129.2 801.4 131.1 805.3 132.3C809.2 133.6 812.2 135.5 813.6 136.1M838.5 142.1C840.5 143.2 846.9 146.1 850.5 148.5C854.1 150.9 857.4 153.8 860.0 156.5C862.6 159.2 864.2 162.1 866.0 165.0C867.8 167.9 869.5 171.8 870.5 174.0C871.5 176.2 871.8 177.3 872.0 178.0M749.0 177.0C749.2 176.5 749.3 176.0 750.0 174.0C750.7 172.0 751.5 168.5 753.0 165.0C754.5 161.5 756.8 156.7 759.0 153.0C761.2 149.3 763.7 145.8 766.0 143.0C768.3 140.2 770.2 137.7 773.0 136.0C775.8 134.3 779.1 133.0 782.7 132.8C786.3 132.6 790.9 133.6 794.7 134.6C798.5 135.6 802.8 137.6 805.3 139.1C807.8 140.6 809.2 142.8 810.0 143.5M830.9 148.2C832.7 149.0 838.1 151.0 841.5 153.0C844.9 155.0 848.2 157.6 851.0 160.0C853.8 162.4 856.0 165.2 858.0 167.5C860.0 169.8 862.0 172.4 863.2 174.0C864.5 175.6 865.1 176.5 865.5 177.0M832.4 153.5C833.8 154.2 838.4 155.7 841.0 157.5C843.6 159.3 845.9 161.8 848.0 164.5C850.1 167.2 852.3 171.9 853.5 174.0C854.7 176.1 854.8 176.5 855.0 177.0M760.5 177.0C760.7 176.5 761.1 175.7 761.5 174.0C761.9 172.3 762.2 169.7 763.0 167.0C763.8 164.3 765.0 160.8 766.0 158.0C767.0 155.2 768.5 151.3 769.0 150.0M782.7 139.1C784.2 138.8 788.7 137.3 791.7 137.6C794.7 137.8 798.2 139.3 800.8 140.6C803.3 141.9 806.0 144.7 807.0 145.5M783.0 177.0C783.0 176.5 783.1 175.5 783.2 174.0C783.3 172.5 783.5 169.0 783.6 168.0M785.7 161.7C786.2 160.7 787.2 157.6 788.7 155.7C790.2 153.8 792.4 151.7 794.7 150.4C797.0 149.2 800.0 148.3 802.3 148.2C804.6 148.0 807.3 149.3 808.3 149.5M809.1 157.5C811.0 157.7 817.0 157.8 820.4 158.7C823.8 159.6 826.8 161.5 829.4 163.2C832.0 164.9 834.2 167.2 836.0 169.0C837.8 170.8 839.0 172.7 840.0 174.0C841.0 175.3 841.7 176.5 842.0 177.0M793.8 179.0C793.8 178.2 793.5 175.2 793.6 174.0C793.7 172.8 794.4 171.9 794.5 171.5"/>
<clipPath id="cR5"><rect x="864.0" y="93.0" width="126.0" height="81.0"/></clipPath>
<path clip-path="url(#cR5)" d="M846.0 140.0C848.0 140.9 854.7 144.1 858.0 145.5C861.3 146.9 863.4 147.4 866.0 148.5C868.6 149.6 872.2 151.4 873.5 152.0M850.5 148.5C852.1 149.8 857.4 153.8 860.0 156.5C862.6 159.2 864.2 162.1 866.0 165.0C867.8 167.9 869.5 171.8 870.5 174.0C871.5 176.2 871.8 177.3 872.0 178.0M858.0 167.5C858.9 168.6 862.0 172.4 863.2 174.0C864.5 175.6 865.1 176.5 865.5 177.0M870.9 97.0L870.0 92.0M840.0 130.2C843.4 130.6 854.0 132.0 860.1 132.8C866.2 133.6 872.1 135.1 876.9 134.9C881.6 134.8 885.2 133.8 888.6 131.9C892.0 130.0 894.6 126.8 897.0 123.5C899.4 120.2 901.6 116.0 902.9 111.8C904.2 107.6 904.3 102.0 904.6 98.4C904.9 94.8 904.6 91.4 904.6 90.0M931.4 90.0C930.7 91.7 929.0 96.2 927.2 100.1C925.4 104.0 922.5 109.0 920.5 113.5C918.5 118.0 916.8 122.4 915.4 126.9C914.0 131.4 912.9 135.8 912.1 140.3C911.3 144.8 911.2 149.5 910.4 153.7C909.6 157.9 908.5 162.3 907.1 165.4C905.7 168.5 904.0 171.3 902.0 172.2C900.0 173.0 898.1 172.2 895.3 170.5C892.5 168.8 888.9 165.2 885.3 162.1C881.7 159.0 877.7 155.1 873.5 152.0C869.3 148.9 865.7 146.5 860.1 143.7C854.5 140.9 843.4 136.7 840.0 135.3M986.0 121.0C984.0 121.4 977.2 122.7 974.1 123.5C971.0 124.3 970.8 125.3 967.4 126.0C964.0 126.7 958.2 126.7 954.0 127.7C949.8 128.7 945.4 129.8 942.3 131.9C939.2 134.0 937.3 136.7 935.6 140.3C933.9 143.9 932.9 149.2 932.2 153.7C931.5 158.2 931.5 162.9 931.4 167.1C931.3 171.3 931.4 177.0 931.4 179.0M986.0 150.0C984.0 150.2 977.8 150.3 974.1 151.2C970.5 152.1 966.9 153.6 964.1 155.4C961.3 157.2 959.4 159.6 957.4 162.1C955.4 164.6 953.7 167.7 952.3 170.5C950.9 173.3 949.5 177.6 949.0 179.0M967.4 97.0C968.2 98.2 970.4 101.8 972.0 104.0C973.6 106.2 974.7 108.0 977.0 110.0C979.3 112.0 984.5 115.0 986.0 116.0M857.5 119.3C859.7 119.2 867.0 119.2 870.9 118.5C874.8 117.8 878.2 117.2 881.0 115.2C883.8 113.2 886.5 109.8 887.7 106.8C888.9 103.8 888.3 99.8 888.3 97.0C888.3 94.2 887.9 91.2 887.8 90.0M860.8 123.5C863.0 123.2 870.4 123.0 874.3 121.9C878.2 120.8 881.5 119.1 884.3 116.8C887.1 114.5 889.2 110.8 891.0 108.0C892.8 105.2 894.1 103.0 895.0 100.0C895.9 97.0 896.0 91.7 896.2 90.0M868.0 112.0C869.8 111.3 876.5 109.8 879.0 108.0C881.5 106.2 882.2 104.0 883.0 101.0C883.8 98.0 883.4 91.8 883.5 90.0M872.0 104.0C872.8 103.0 876.1 100.3 877.0 98.0C877.9 95.7 877.5 91.3 877.6 90.0M977.0 97.0L986.0 107.0M976.5 107.0L986.0 118.0M975.0 133.0L986.0 138.0M972.0 160.0L986.0 163.0"/>
<clipPath id="cR6"><rect x="562.0" y="174.0" width="163.0" height="177.0"/></clipPath>
<path clip-path="url(#cR6)" d="M585.5 175.0C588.0 176.1 595.3 179.7 600.6 181.7C605.9 183.7 611.7 186.2 617.3 186.8C622.9 187.5 629.4 186.5 634.1 185.6C638.9 184.7 642.6 182.8 645.8 181.5C648.9 180.2 651.0 178.8 653.0 177.5C655.0 176.2 656.4 175.3 657.6 174.0C658.9 172.7 660.0 170.2 660.5 169.5M565.0 179.0C565.3 179.2 564.1 178.5 567.0 180.1C569.9 181.7 577.4 185.9 582.1 188.4C586.9 190.9 590.5 193.2 595.5 195.2C600.5 197.2 606.7 199.1 612.3 200.2C617.9 201.3 624.1 202.1 629.1 201.9C634.1 201.8 638.0 201.0 642.5 199.3C647.0 197.6 652.0 194.7 655.9 191.8C659.8 188.9 663.5 184.8 666.0 181.7C668.5 178.6 669.9 175.3 671.0 173.4C672.1 171.5 672.4 170.6 672.7 170.0M565.0 190.5C565.3 190.7 564.1 189.9 567.0 191.8C569.9 193.7 577.4 199.1 582.1 201.9C586.9 204.7 590.5 206.5 595.5 208.6C600.5 210.7 606.7 213.0 612.3 214.4C617.9 215.8 623.5 216.8 629.1 217.0C634.7 217.2 640.8 216.7 645.8 215.3C650.8 213.9 655.1 211.7 659.3 208.6C663.5 205.5 667.6 201.0 671.0 196.8C674.4 192.6 677.4 187.3 679.4 183.4C681.4 179.5 682.0 175.6 682.7 173.4C683.4 171.2 683.5 170.6 683.6 170.0M565.0 202.0C565.3 202.2 564.7 201.8 567.0 203.5C569.3 205.2 574.0 209.1 578.8 211.9C583.5 214.7 589.9 217.8 595.5 220.3C601.1 222.8 606.7 225.3 612.3 227.0C617.9 228.7 623.5 230.0 629.1 230.4C634.7 230.8 640.2 230.9 645.8 229.5C651.4 228.1 657.6 225.5 662.6 222.0C667.6 218.5 672.1 213.6 676.0 208.6C679.9 203.6 683.6 196.8 686.1 191.8C688.6 186.8 690.0 182.0 691.1 178.4C692.2 174.8 692.5 171.4 692.8 170.0M565.0 214.5C565.3 214.6 564.7 214.3 567.0 215.3C569.3 216.3 574.0 218.1 578.8 220.3C583.5 222.5 589.9 225.9 595.5 228.7C601.1 231.5 606.7 234.9 612.3 237.1C617.9 239.3 623.5 241.3 629.1 242.1C634.7 242.9 640.2 243.1 645.8 242.1C651.4 241.1 657.3 239.3 662.6 236.2C667.9 233.1 673.2 228.9 677.7 223.7C682.2 218.5 686.3 211.1 689.4 205.2C692.5 199.3 694.4 193.2 696.1 188.4C697.8 183.7 698.6 179.8 699.5 176.7C700.4 173.6 700.9 171.1 701.2 170.0M565.0 226.2C565.3 226.3 564.7 226.0 567.0 227.0C569.3 228.0 574.0 230.1 578.8 232.0C583.5 233.9 589.9 236.3 595.5 238.7C601.1 241.1 606.7 244.1 612.3 246.3C617.9 248.6 623.5 250.9 629.1 252.2C634.7 253.4 640.2 254.4 645.8 253.8C651.4 253.2 657.0 251.6 662.6 248.8C668.2 246.0 674.4 242.1 679.4 237.1C684.4 232.1 689.2 224.8 692.8 218.6C696.4 212.4 699.0 206.1 701.2 200.2C703.4 194.3 704.8 188.4 706.2 183.4C707.6 178.4 709.0 172.2 709.6 170.0M565.0 239.8C565.3 239.9 564.7 239.7 567.0 240.4C569.3 241.1 574.0 242.4 578.8 243.8C583.5 245.2 589.9 246.9 595.5 248.8C601.1 250.8 607.9 253.5 612.3 255.5C616.7 257.5 618.6 259.5 622.0 261.0C625.4 262.5 628.4 264.3 632.4 264.7C636.4 265.1 641.9 264.4 645.8 263.5C649.7 262.6 651.7 261.5 655.9 259.5C660.1 257.5 666.0 254.7 671.0 251.5C676.0 248.3 681.4 245.6 686.1 240.4C690.9 235.2 695.9 226.7 699.5 220.3C703.1 213.9 705.7 207.8 707.9 201.9C710.1 196.0 711.5 190.4 712.9 185.1C714.3 179.8 715.7 172.5 716.3 170.0M565.0 256.0C565.3 256.1 564.7 255.8 567.0 256.5C569.3 257.2 574.0 258.9 578.8 260.5C583.5 262.1 589.9 264.2 595.5 266.0C601.1 267.8 606.7 269.7 612.3 271.0C617.9 272.3 623.5 273.8 629.1 274.0C634.7 274.2 640.8 273.4 645.8 272.5C650.8 271.6 655.4 270.1 659.3 268.5C663.2 266.9 666.2 264.8 669.3 263.0C672.4 261.2 673.8 260.4 677.7 257.5C681.6 254.6 688.0 250.9 692.8 245.5C697.5 240.1 702.3 232.3 706.2 225.3C710.1 218.3 713.8 209.9 716.3 203.5C718.8 197.1 719.9 192.4 721.3 186.8C722.7 181.2 724.0 172.8 724.6 170.0M565.0 271.3C565.3 271.4 564.7 271.2 567.0 271.7C569.3 272.2 574.0 273.4 578.8 274.4C583.5 275.4 589.9 276.7 595.5 277.9C601.1 279.1 606.7 280.4 612.3 281.4C617.9 282.3 624.8 283.2 629.1 283.6C633.4 284.1 636.8 284.0 638.3 284.1M662.6 280.8C664.3 279.9 669.6 277.7 672.7 275.7C675.8 273.7 679.0 270.9 681.0 269.0C683.0 267.1 683.0 265.7 684.4 264.0C685.8 262.3 686.3 262.1 689.4 259.0C692.5 255.9 698.6 250.8 702.8 245.5C707.0 240.2 711.2 233.2 714.6 227.0C718.0 220.8 720.4 214.8 723.0 208.6C725.6 202.4 728.8 193.2 730.0 190.1M565.0 284.4C565.3 284.4 564.7 284.3 567.0 284.6C569.3 284.9 574.0 285.3 578.8 286.0C583.5 286.7 589.9 288.0 595.5 289.0C601.1 290.0 608.0 291.3 612.3 292.0C616.6 292.7 620.0 293.1 621.5 293.3M645.8 295.0C648.0 294.6 654.8 293.9 659.3 292.5C663.8 291.1 668.8 288.8 672.7 286.6C676.6 284.4 679.6 281.8 682.7 279.1C685.8 276.5 688.9 273.2 691.1 270.7C693.3 268.2 694.3 265.9 696.0 264.0C697.7 262.1 698.4 262.1 701.2 259.0C704.0 255.9 709.3 250.3 712.9 245.5C716.5 240.7 720.1 235.2 723.0 230.4C725.9 225.7 728.8 219.2 730.0 217.0M565.0 297.4C565.3 297.4 564.7 297.3 567.0 297.5C569.3 297.7 574.0 298.0 578.8 298.4C583.5 298.8 589.9 299.4 595.5 300.1C601.1 300.8 606.7 301.9 612.3 302.6C617.9 303.3 623.5 303.9 629.1 304.2C634.7 304.5 640.2 304.8 645.8 304.2C651.4 303.6 657.6 302.4 662.6 300.9C667.6 299.4 671.8 297.4 676.0 295.0C680.2 292.6 684.2 289.8 687.8 286.6C691.4 283.4 695.0 278.8 697.8 275.7C700.6 272.6 702.6 269.9 704.5 268.0C706.4 266.1 707.6 265.5 709.0 264.0C710.4 262.5 710.6 261.8 712.9 259.0C715.2 256.2 720.1 250.8 723.0 247.1C725.9 243.4 728.8 238.8 730.0 237.1M565.0 308.3C565.3 308.3 564.7 308.3 567.0 308.4C569.3 308.5 574.0 308.6 578.8 308.9C583.5 309.2 589.9 309.6 595.5 310.1C601.1 310.6 606.7 311.2 612.3 311.8C617.9 312.4 623.5 313.2 629.1 313.5C634.7 313.8 640.2 313.9 645.8 313.5C651.4 313.1 657.3 312.3 662.6 310.9C667.9 309.5 673.0 307.5 677.7 305.1C682.5 302.7 686.9 300.2 691.1 296.7C695.3 293.2 699.4 288.0 702.8 284.1C706.1 280.2 708.8 276.4 711.2 273.5C713.6 270.6 715.4 268.6 717.0 267.0C718.6 265.4 719.7 265.3 721.0 264.0C722.3 262.7 723.1 261.0 724.6 259.0C726.1 257.0 729.1 253.3 730.0 252.2M565.0 319.2C565.3 319.2 564.7 319.1 567.0 319.3C569.3 319.5 575.3 320.1 578.8 320.2C582.3 320.3 586.5 320.2 588.0 320.2M612.3 321.8C615.1 321.9 623.5 322.6 629.1 322.7C634.7 322.8 640.2 323.0 645.8 322.7C651.4 322.4 657.3 322.0 662.6 321.0C667.9 320.0 672.7 318.8 677.7 316.8C682.7 314.9 688.0 312.5 692.8 309.3C697.5 306.1 702.3 301.6 706.2 297.5C710.1 293.4 713.5 288.6 716.3 284.5C719.1 280.4 721.0 276.4 723.0 273.0C725.0 269.6 726.5 267.8 728.0 264.0C729.5 260.2 731.1 252.3 731.7 250.0M565.0 329.3C565.3 329.3 564.6 329.2 567.0 329.4C569.4 329.5 577.5 330.1 579.6 330.2M603.9 331.1C606.7 331.4 615.1 332.3 620.7 332.7C626.3 333.1 631.9 333.6 637.5 333.6C643.1 333.6 648.6 333.3 654.2 332.7C659.8 332.1 665.4 331.3 671.0 330.2C676.6 329.1 682.2 328.1 687.8 326.0C693.4 323.9 700.1 320.8 704.5 317.6C708.9 314.4 711.2 310.8 714.0 307.0C716.8 303.2 719.2 298.5 721.0 295.0C722.8 291.5 723.5 288.8 725.0 286.0C726.5 283.2 729.2 279.3 730.0 278.0M565.0 339.4C565.3 339.4 561.9 339.2 567.0 339.5C572.1 339.8 586.4 340.8 595.5 341.1C604.6 341.4 617.2 341.4 621.5 341.5M645.8 342.0C648.6 341.9 657.0 341.5 662.6 341.1C668.2 340.7 673.8 340.2 679.4 339.5C685.0 338.8 691.1 338.0 696.1 336.9C701.1 335.8 705.7 334.7 709.6 332.7C713.5 330.7 717.0 327.4 719.6 325.0C722.2 322.6 723.4 320.7 725.0 318.0C726.6 315.3 728.3 310.5 729.0 309.0M694.0 349.5C694.4 349.4 693.0 349.8 696.1 348.7C699.2 347.6 708.4 344.6 712.9 342.8C717.4 341.0 721.0 338.9 723.0 337.8C725.0 336.8 723.8 337.3 725.0 336.5C726.2 335.7 729.2 333.6 730.1 333.0"/>
<clipPath id="cR7"><rect x="725.0" y="174.0" width="139.0" height="80.0"/></clipPath>
<path clip-path="url(#cR7)" d="M807.2 191.8C807.2 192.9 806.8 195.4 807.2 198.5C807.6 201.6 808.3 206.6 809.7 210.2C811.1 213.8 813.2 218.1 815.6 220.3C818.0 222.6 821.5 223.7 824.0 223.7C826.5 223.7 828.9 222.3 830.7 220.3C832.5 218.3 834.2 215.2 834.9 211.9C835.6 208.6 835.6 203.8 834.9 200.2C834.2 196.6 832.4 192.9 830.7 190.1C829.0 187.3 825.8 184.5 824.8 183.4M793.8 178.4C793.8 180.6 793.7 187.6 793.8 191.8C793.9 196.0 794.6 199.9 794.6 203.5C794.6 207.1 794.5 210.2 793.8 213.6C793.1 217.0 791.2 220.6 790.4 223.7C789.5 226.8 788.7 229.5 788.7 232.0C788.7 234.5 789.0 236.4 790.4 238.7C791.8 240.9 794.0 243.5 797.1 245.5C800.2 247.5 805.0 248.8 808.9 250.5C812.8 252.2 817.5 254.1 820.6 255.5C823.7 256.9 826.2 258.4 827.3 259.0M783.7 170.0C783.4 172.2 782.7 179.2 782.0 183.4C781.3 187.6 780.9 191.6 779.5 195.2C778.1 198.8 776.4 201.8 773.7 205.2C771.1 208.5 767.2 211.7 763.6 215.3C760.0 218.9 755.8 223.1 751.9 227.0C748.0 230.9 743.7 234.8 740.1 238.7C736.5 242.6 732.6 247.2 730.1 250.5C727.6 253.8 726.7 256.1 725.0 258.5C723.3 260.9 720.8 263.9 720.0 265.0M763.0 167.0C762.8 168.2 762.5 170.8 761.5 174.0C760.5 177.2 758.9 181.7 757.0 186.0C755.1 190.3 752.7 195.0 750.0 200.0C747.3 205.0 744.0 210.7 741.0 216.0C738.0 221.3 734.7 227.3 732.0 232.0C729.3 236.7 727.0 240.9 725.0 244.2C723.0 247.5 720.8 250.7 720.0 252.0M753.0 165.0C752.5 166.5 751.3 170.5 750.0 174.0C748.7 177.5 747.0 181.7 745.0 186.0C743.0 190.3 740.3 195.3 738.0 200.0C735.7 204.7 733.2 209.6 731.0 214.0C728.8 218.4 726.8 223.1 725.0 226.6C723.2 230.1 720.8 233.6 720.0 235.0M739.0 168.0C738.5 169.0 737.0 171.5 736.0 174.0C735.0 176.5 734.2 179.8 733.0 183.0C731.8 186.2 730.3 189.6 729.0 193.0C727.7 196.4 726.5 200.1 725.0 203.3C723.5 206.5 720.8 210.6 720.0 212.0M837.4 170.0C838.5 171.7 841.9 176.5 844.1 180.1C846.3 183.7 848.8 187.3 850.8 191.8C852.8 196.3 854.8 201.6 855.8 206.9C856.8 212.2 856.7 218.1 856.7 223.7C856.7 229.3 856.1 234.5 855.8 240.4C855.5 246.3 855.1 255.9 855.0 259.0M850.8 170.0C851.9 171.7 855.0 176.2 857.5 180.1C860.0 184.0 863.7 188.8 865.9 193.5C868.1 198.2 869.5 203.3 870.9 208.6C872.3 213.9 873.5 219.7 874.3 225.3C875.1 230.9 875.3 236.5 875.9 242.1C876.5 247.7 877.3 256.2 877.6 259.0"/>
<clipPath id="cR8"><rect x="864.0" y="174.0" width="126.0" height="80.0"/></clipPath>
<path clip-path="url(#cR8)" d="M931.4 165.0C931.0 165.8 929.3 166.4 928.9 170.0C928.5 173.6 928.9 181.2 928.9 186.8C928.9 192.4 929.0 198.8 928.9 203.5C928.8 208.2 928.9 211.9 928.0 215.3C927.1 218.7 925.3 221.6 923.8 223.7C922.3 225.8 920.8 227.4 918.8 227.8C916.8 228.2 914.6 227.7 912.1 226.2C909.6 224.7 906.8 221.8 903.7 218.6C900.6 215.4 897.1 210.8 893.7 206.9C890.4 203.0 887.0 198.8 883.6 195.2C880.2 191.6 876.6 188.2 873.5 185.1C870.4 182.0 867.4 179.2 865.2 176.7C863.0 174.2 861.0 171.1 860.1 170.0M850.8 170.0C851.9 171.7 855.1 177.3 857.5 180.1C859.9 182.9 863.0 182.9 865.2 186.8C867.5 190.7 869.6 197.9 871.0 203.5C872.4 209.1 872.8 214.7 873.5 220.3C874.2 225.9 874.4 230.7 875.2 237.1C876.1 243.5 878.0 255.3 878.6 259.0M866.0 165.0C866.8 166.5 868.7 170.4 870.5 174.0C872.3 177.6 874.7 181.9 876.9 186.8C879.1 191.7 881.6 197.9 883.6 203.5C885.6 209.1 886.7 214.7 888.6 220.3C890.5 225.9 892.2 230.7 895.3 237.1C898.4 243.5 905.1 255.3 907.1 259.0M947.3 193.5C947.6 195.2 948.3 199.6 949.0 203.5C949.7 207.4 951.0 212.4 951.5 216.9C952.0 221.4 952.3 225.9 952.3 230.4C952.3 234.9 951.8 239.0 951.5 243.8C951.2 248.6 950.8 256.5 950.7 259.0M986.5 176.5C985.3 177.1 981.5 178.1 979.2 180.1C976.9 182.1 974.2 185.1 972.5 188.4C970.8 191.8 969.8 195.4 969.1 200.2C968.4 204.9 968.1 211.3 968.3 216.9C968.4 222.5 969.3 228.7 970.0 233.7C970.7 238.7 971.8 242.9 972.5 247.1C973.2 251.3 973.8 257.0 974.1 259.0M949.0 179.0L947.5 183.0"/>
<clipPath id="cR9"><rect x="725.0" y="254.0" width="125.0" height="97.0"/></clipPath>
<path clip-path="url(#cR9)" d="M808.9 250.5C809.8 250.6 812.0 250.5 814.0 251.0C816.0 251.5 817.8 251.6 820.6 253.4C823.4 255.2 827.4 258.3 830.7 261.7C834.1 265.1 837.4 269.3 840.7 273.5C844.1 277.7 847.4 282.1 850.8 286.9C854.1 291.6 859.1 299.5 860.8 302.0M813.9 275.2C815.6 275.9 820.6 277.1 824.0 279.3C827.4 281.5 830.6 285.1 834.0 288.6C837.4 292.1 840.8 296.1 844.1 300.3C847.5 304.5 852.4 311.5 854.1 313.7M789.6 277.7C788.3 278.2 784.1 279.5 782.0 281.0C779.9 282.5 778.1 284.0 777.0 286.9C775.9 289.8 775.6 293.6 775.3 298.6C775.0 303.6 775.1 310.4 775.3 317.1C775.4 323.8 776.0 333.6 776.2 339.0C776.4 344.4 776.5 347.8 776.5 349.5M798.0 298.6C797.0 299.5 793.9 301.5 792.1 303.7C790.3 305.9 788.2 308.6 787.1 312.0C786.0 315.4 785.8 319.3 785.4 323.8C785.0 328.3 784.6 334.7 784.5 339.0C784.4 343.3 784.5 347.8 784.5 349.5M835.7 302.0C837.1 303.7 841.3 308.4 844.1 312.0C846.9 315.6 851.1 321.8 852.5 323.8M823.1 317.1C821.6 317.2 817.1 317.2 813.9 317.9C810.7 318.6 806.6 319.5 803.8 321.3C801.0 323.1 798.8 325.9 797.1 328.8C795.4 331.8 794.5 335.6 793.8 339.0C793.1 342.4 793.0 347.8 792.8 349.5M847.4 323.8L852.5 330.5M814.7 333.9C813.7 334.3 810.1 335.5 808.9 336.4C807.6 337.2 807.7 336.8 807.2 339.0C806.7 341.2 806.2 347.8 806.0 349.5M844.1 332.2C844.6 333.3 846.7 336.1 847.4 339.0C848.1 341.9 848.3 347.8 848.5 349.5M721.0 295.0C721.7 293.5 723.5 288.8 725.0 286.0C726.5 283.2 728.2 280.2 730.0 278.0C731.8 275.8 734.0 273.9 736.0 272.5C738.0 271.1 739.4 269.9 741.8 269.8C744.2 269.7 747.7 270.2 750.2 271.8C752.7 273.4 755.1 276.0 756.9 279.3C758.7 282.6 760.0 287.0 761.1 291.9C762.2 296.8 762.9 303.1 763.6 308.7C764.3 314.3 764.7 320.4 765.3 325.5C765.9 330.6 766.5 335.0 767.0 339.0C767.5 343.0 767.8 347.8 768.0 349.5M719.6 325.0C720.5 323.8 723.4 320.7 725.0 318.0C726.6 315.3 727.6 311.4 729.0 309.0C730.4 306.6 731.5 304.4 733.4 303.5C735.2 302.6 738.1 302.6 740.1 303.7C742.1 304.8 743.8 307.6 745.2 310.4C746.6 313.2 747.5 315.7 748.5 320.5C749.5 325.3 750.4 334.2 751.0 339.0C751.6 343.8 751.8 347.8 752.0 349.5M723.0 337.8C723.3 337.6 723.8 337.3 725.0 336.5C726.2 335.7 728.1 333.3 730.1 333.0C732.1 332.7 735.1 333.7 736.8 334.7C738.5 335.7 739.4 336.5 740.1 339.0C740.8 341.5 740.9 347.8 741.0 349.5M723.0 273.0C723.8 271.5 726.5 267.8 728.0 264.0C729.5 260.2 730.9 253.3 731.7 250.0C732.5 246.7 732.8 245.0 733.0 244.0M740.1 238.7C738.4 240.7 732.6 247.2 730.1 250.5C727.6 253.8 726.7 256.1 725.0 258.5C723.3 260.9 720.8 263.9 720.0 265.0"/>
<clipPath id="cR10"><rect x="850.0" y="254.0" width="140.0" height="97.0"/></clipPath>
<path clip-path="url(#cR10)" d="M855.8 240.4C855.7 243.5 854.8 255.1 855.0 259.0C855.2 262.9 855.7 260.9 856.8 264.0C857.9 267.1 859.6 272.4 861.8 277.4C864.0 282.4 866.9 289.2 870.2 294.2C873.6 299.2 877.4 304.0 881.9 307.6C886.4 311.2 892.2 313.5 897.0 316.0C901.8 318.5 906.5 320.2 910.4 322.7C914.3 325.2 917.7 328.3 920.5 331.1C923.3 333.9 925.4 336.4 927.2 339.5C929.0 342.6 930.7 347.8 931.4 349.5M875.9 242.1C876.2 244.9 876.3 255.3 877.6 259.0C878.9 262.6 881.8 261.5 883.6 264.0C885.4 266.5 886.1 270.5 888.6 274.1C891.1 277.7 895.1 281.9 898.7 285.8C902.3 289.7 906.5 293.6 910.4 297.5C914.3 301.4 918.6 305.7 922.2 309.3C925.8 312.9 929.4 315.7 932.2 319.3C935.0 322.9 937.2 327.5 938.9 331.1C940.6 334.7 941.4 338.0 942.3 341.1C943.1 344.2 943.7 348.1 944.0 349.5M895.3 237.1C897.3 240.8 904.6 254.5 907.1 259.0C909.6 263.5 908.5 261.2 910.4 264.0C912.3 266.8 916.0 271.8 918.8 275.7C921.6 279.6 924.4 283.6 927.2 287.5C930.0 291.4 932.8 295.0 935.6 299.2C938.4 303.4 941.5 308.1 944.0 312.6C946.5 317.1 948.8 321.8 950.7 326.0C952.7 330.2 954.5 333.9 955.7 337.8C957.0 341.7 957.8 347.6 958.2 349.5M951.5 243.8C951.4 246.3 951.1 255.6 950.7 259.0C950.3 262.4 949.1 261.5 949.0 264.0C948.9 266.5 949.0 270.5 949.8 274.1C950.6 277.7 951.9 281.9 954.0 285.8C956.1 289.7 959.0 294.1 962.4 297.5C965.8 300.9 970.1 303.7 974.1 305.9C978.1 308.1 984.4 310.1 986.5 310.9M972.5 247.1C972.8 249.1 973.8 256.2 974.1 259.0C974.4 261.8 973.5 261.8 974.1 264.0C974.7 266.2 976.1 269.9 977.5 272.4C978.9 274.9 981.0 277.6 982.5 279.1C984.0 280.6 985.8 281.2 986.5 281.6M830.7 261.7C832.2 263.8 837.3 270.4 840.0 274.1C842.7 277.8 843.9 279.6 846.7 284.1C849.5 288.6 853.4 295.3 856.8 300.9C860.1 306.5 863.7 312.3 866.8 317.6C869.9 322.9 873.1 328.5 875.2 332.7C877.3 336.9 878.6 340.0 879.4 342.8C880.2 345.6 880.1 348.4 880.2 349.5M834.0 288.6C835.0 289.5 837.3 290.8 840.0 294.2C842.7 297.6 846.8 304.0 850.1 309.3C853.5 314.6 857.3 321.0 860.1 326.0C862.9 331.0 865.3 335.6 866.8 339.5C868.3 343.4 868.9 347.8 869.3 349.5M835.7 302.0C836.4 302.4 837.9 301.6 840.0 304.2C842.1 306.8 845.9 313.1 848.4 317.6C850.9 322.1 853.3 326.9 855.1 331.1C856.9 335.3 858.5 339.7 859.3 342.8C860.1 345.9 860.0 348.4 860.1 349.5M840.0 317.6C841.1 319.9 845.0 327.2 846.7 331.1C848.4 335.0 849.4 338.0 850.1 341.1C850.8 344.2 850.8 348.1 850.9 349.5"/>
</g>
</defs>
<g clip-path="url(#cpR)">
<path d="M565.0 8.0L977.6 8.0L977.5 105.0L974.9 130.1L972.4 145.1L967.4 158.9L959.9 170.1L949.9 178.9L937.4 184.7L922.3 186.4L902.3 186.4L882.3 185.2L862.2 183.9L842.2 183.9L824.6 185.7L807.1 188.9L789.6 191.4L774.9 190.7L762.4 188.9L749.9 185.2L737.4 180.2L724.8 173.9L712.3 166.4L702.3 158.9L696.0 154.6L692.8 157.6L693.5 165.1L696.0 177.6L694.8 185.2L689.8 188.9L682.2 186.4L673.5 178.9L667.2 167.6L662.2 153.8L658.4 143.8L654.7 143.1L648.4 148.8L642.2 158.9L634.6 167.6L622.1 170.6L608.3 171.4L602.1 175.1L599.1 182.7L595.8 192.7L589.6 201.4L579.5 210.2L567.0 219.0L565.0 220.5Z" fill="#ff1c1c"/>
<g class="cr" clip-path="url(#redR)" style="stroke:#c00a0a"><use href="#lnR"/></g>
<g class="cn" clip-path="url(#whtR)"><use href="#lnR"/></g>
</g>
<g stroke="#161616" fill="none" stroke-linecap="butt">
<path stroke-width="3.00" d="M566.30 10.10V350.50"/>
<path stroke-width="2.40" d="M564.80 349.30H986.95"/>
<path stroke-width="1.80" stroke="#2a2a2a" d="M564.80 11.00H986.95"/>
<path stroke-width="1.50" stroke="#3a3a3a" d="M986.20 10.10V350.50"/>
<path stroke-width="1.4" d="M608.29 348.30v-3.30M650.28 348.30v-6.50M692.27 348.30v-3.30M734.26 348.30v-6.50M776.25 348.30v-3.30M818.24 348.30v-6.50M860.23 348.30v-3.30M902.22 348.30v-6.50M944.21 348.30v-3.30M567.60 39.19h2.60M567.60 67.38h6.40M567.60 95.58h2.60M567.60 123.77h6.40M567.60 151.96h2.60M567.60 180.15h6.40M567.60 208.34h2.60M567.60 236.53h6.40M567.60 264.73h2.60M567.60 292.92h6.40M567.60 321.11h2.60"/>
</g>
<rect x="930.3" y="157.6" width="5.4" height="26.4" fill="#ff3434"/>
<rect x="930.3" y="200.0" width="5.4" height="5.0" fill="#ff0a0a"/>
<rect x="930.3" y="222.7" width="5.4" height="22.8" fill="#ff0a0a"/>
<rect x="930.3" y="266.0" width="5.4" height="5.0" fill="#ff0a0a"/>
<rect x="930.3" y="289.7" width="5.4" height="21.9" fill="#ff0a0a"/>
<rect x="930.3" y="331.0" width="5.4" height="5.0" fill="#ff0a0a"/>
<text class="tk" x="566.3" y="371.4" text-anchor="middle">800</text>
<text class="tk" x="650.3" y="371.4" text-anchor="middle">850</text>
<text class="tk" x="734.3" y="371.4" text-anchor="middle">900</text>
<text class="tk" x="818.2" y="371.4" text-anchor="middle">950</text>
<text class="tk" x="902.2" y="371.4" text-anchor="middle">1000</text>
<text class="tk" x="986.2" y="371.4" text-anchor="middle">1050</text>
<text class="tk" x="563.8" y="18.3" text-anchor="end" style="font-size:20.5px">1.0</text>
<text class="tk" x="563.8" y="74.7" text-anchor="end" style="font-size:20.5px">0.5</text>
<text class="tk" x="563.8" y="131.1" text-anchor="end" style="font-size:20.5px">0.0</text>
<text class="tk" x="563.8" y="187.5" text-anchor="end" style="font-size:20.5px">-0.5</text>
<text class="tk" x="563.8" y="243.8" text-anchor="end" style="font-size:20.5px">-1.0</text>
<text class="tk" x="563.8" y="300.2" text-anchor="end" style="font-size:20.5px">-1.5</text>
<text class="tk" x="563.8" y="356.6" text-anchor="end" style="font-size:20.5px">-2.0</text>
<text class="ax" x="707.4" y="394.0">Temperature/<tspan dx="2">℃</tspan></text>
<g clip-path="url(#cpR)">
<text class="cl" transform="translate(604.8 26.4) scale(0.925 1)" style="font-size:15.3px;fill:#620000;stroke:#620000">0.22</text>
<text class="cl" transform="translate(635.0 49.9) scale(0.925 1)" style="font-size:15.3px;fill:#620000;stroke:#620000">0.19</text>
<text class="cl" transform="translate(612.3 147.8) scale(0.925 1)" style="font-size:15.3px;fill:#620000;stroke:#620000">0.14</text>
<text class="cl" transform="translate(607.3 170.8) scale(0.925 1)" style="font-size:15.3px;fill:#620000;stroke:#620000">0.16</text>
<text class="cl" transform="translate(768.6 43.2) scale(0.925 1)" style="font-size:15.3px;fill:#620000;stroke:#620000">0.079</text>
<text class="cl" transform="translate(819.8 49.1) scale(0.925 1)" style="font-size:15.3px;fill:#620000;stroke:#620000">0.14</text>
<text class="cl" transform="translate(798.8 60.8) scale(0.925 1)" style="font-size:15.3px;fill:#620000;stroke:#620000">0.11</text>
<text class="cl" transform="translate(826.5 70.0) scale(0.925 1)" style="font-size:15.3px;fill:#620000;stroke:#620000">0.16</text>
<text class="cl" transform="translate(761.0 69.2) scale(0.925 1)" style="font-size:15.3px;fill:#620000;stroke:#620000">0.19</text>
<text class="cl" transform="translate(765.3 77.6) scale(0.925 1)" style="font-size:15.3px;fill:#620000;stroke:#620000">0.22</text>
<text class="cl" transform="translate(807.2 94.4) scale(0.925 1)" style="font-size:15.3px;fill:#620000;stroke:#620000">0.25</text>
<text class="cl" transform="translate(849.0 102.6) scale(0.925 1)" style="font-size:15.3px;fill:#620000;stroke:#620000">0.28</text>
<text class="cl" transform="translate(853.0 103.0) scale(0.925 1)" style="font-size:15.3px;fill:#620000;stroke:#620000">0.31</text>
<text class="cl" transform="translate(807.2 110.1) scale(0.925 1)" style="font-size:15.3px;fill:#620000;stroke:#620000">0.33</text>
<text class="cl" transform="translate(832.3 121.0) scale(0.925 1)" style="font-size:15.3px;fill:#620000;stroke:#620000">0.36</text>
<text class="cl" transform="translate(892.8 82.6) scale(0.925 1)" style="font-size:15.3px;fill:#620000;stroke:#620000">0.39</text>
<text class="cl" transform="translate(956.5 77.6) scale(0.925 1)" style="font-size:15.3px;fill:#620000;stroke:#620000">0.36</text>
<text class="cl" transform="translate(928.0 35.7) scale(0.925 1)" style="font-size:15.3px;fill:#620000;stroke:#620000">0.33</text>
<text class="cl" transform="translate(934.0 35.2) scale(0.925 1)" style="font-size:15.3px;fill:#620000;stroke:#620000">0.31</text>
<text class="cl" transform="translate(957.4 49.9) scale(0.925 1)" style="font-size:15.3px;fill:#620000;stroke:#620000">0.28</text>
<text class="cl" transform="translate(963.0 49.9) scale(0.925 1)" style="font-size:15.3px;fill:#620000;stroke:#620000">0.25</text>
<text class="cl" transform="translate(957.4 23.1) scale(0.925 1)" style="font-size:15.3px;fill:#620000;stroke:#620000">0.22</text>
<text class="cl" transform="translate(962.0 22.3) scale(0.925 1)" style="font-size:15.3px;fill:#620000;stroke:#620000">0.16</text>
<text class="cl" transform="translate(817.0 143.5) scale(0.925 1)" style="font-size:15.3px;fill:#620000;stroke:#620000">0.48</text>
<text class="cl" transform="translate(808.0 151.2) scale(0.925 1)" style="font-size:15.3px;fill:#620000;stroke:#620000">0.51</text>
<text class="cl" transform="translate(785.4 170.5) scale(0.925 1)" style="font-size:15.3px;fill:#620000;stroke:#620000">0.53</text>
<text class="cl" transform="translate(800.5 184.3) scale(0.925 1)" style="font-size:15.3px;fill:#620000;stroke:#620000">0.56</text>
<text class="cl" transform="translate(938.0 177.8) scale(0.925 1)" style="font-size:15.3px;fill:#5a2a2a;stroke:#5a2a2a">0.48</text>
<text class="cl" transform="translate(937.3 193.5) scale(0.925 1)" style="font-size:17px;fill:#000;stroke:#000">0.51</text>
<text class="cl" transform="translate(638.3 287.5) scale(0.925 1)" style="font-size:15.3px">0.42</text>
<text class="cl" transform="translate(621.5 297.5) scale(0.925 1)" style="font-size:15.3px">0.45</text>
<text class="cl" transform="translate(588.0 324.4) scale(0.925 1)" style="font-size:15.3px">0.53</text>
<text class="cl" transform="translate(579.6 334.4) scale(0.925 1)" style="font-size:15.3px">0.56</text>
<text class="cl" transform="translate(621.5 345.3) scale(0.925 1)" style="font-size:15.3px">0.59</text>
<text class="cl" transform="translate(789.6 279.3) scale(0.925 1)" style="font-size:15.3px">0.51</text>
<text class="cl" transform="translate(798.0 301.1) scale(0.925 1)" style="font-size:15.3px">0.48</text>
<text class="cl" transform="translate(823.1 326.3) scale(0.925 1)" style="font-size:15.3px">0.45</text>
<text class="cl" transform="translate(814.7 339.0) scale(0.925 1)" style="font-size:15.3px">0.42</text>
<text class="cl" transform="translate(890.3 347.8) scale(0.925 1)" style="font-size:15.3px">0.56</text>
<text class="cl" transform="translate(960.7 347.0) scale(0.925 1)" style="font-size:15.3px">0.45</text>
</g>
<text class="rm" x="672.6" y="321.8" style="font-size:25px;" textLength="5.4" lengthAdjust="spacingAndGlyphs">I</text>
<text class="rm" x="824.0" y="315.4" style="font-size:25px;" textLength="11.7" lengthAdjust="spacingAndGlyphs">II</text>
<text class="rm" x="950.7" y="235.4" style="font-size:25px;" textLength="20.9" lengthAdjust="spacingAndGlyphs">III</text>
<text class="rm" x="769.5" y="151.2" style="fill:#2a0000;font-size:24px;" textLength="13.4" lengthAdjust="spacingAndGlyphs">V</text>
<text class="ax" transform="translate(19,199) rotate(-90)" style="letter-spacing:0.5px">lg<tspan font-style="italic">ε</tspan></text>
<text x="505.7" y="15" font-size="21.5">a</text>
<text x="992.2" y="24.6" font-size="22.5">b</text>
<text y="480.2" font-size="22"><tspan x="409.6">图 </tspan><tspan x="439.5" font-size="21">4 </tspan><tspan x="477.8" font-size="21.5" style="letter-spacing:1.45px">Ti80 </tspan><tspan x="529.8" style="letter-spacing:3.1px">合金加工图</tspan></text>
<text x="144" y="521" font-size="20.5" style="letter-spacing:2.07px">Fig.4 <tspan dx="16.8">Hot</tspan> working drawing of Ti80 titanium alloy: (a) <tspan font-style="italic">ε</tspan>=0.2 and (b) <tspan font-style="italic">ε</tspan>=0.6</text>
</svg></body></html>
